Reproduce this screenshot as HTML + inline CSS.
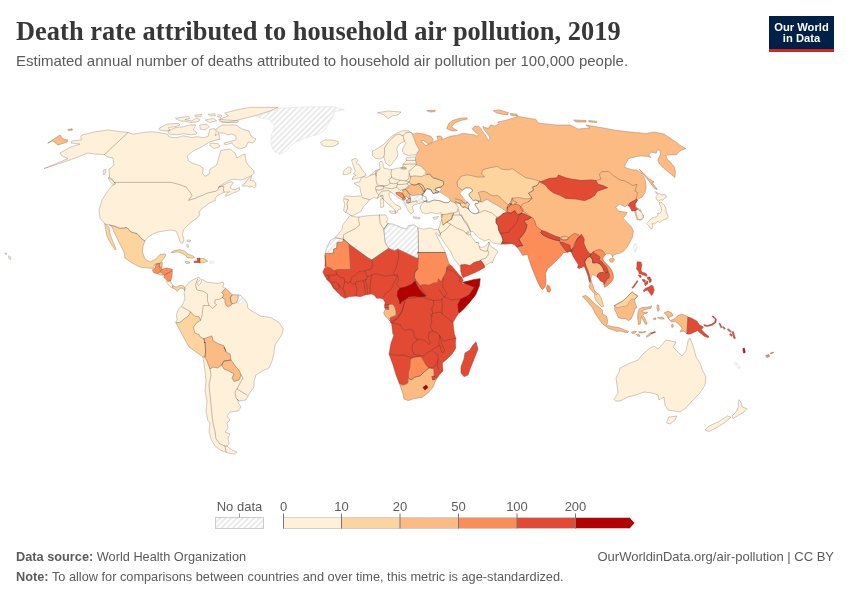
<!DOCTYPE html>
<html lang="en">
<head>
<meta charset="utf-8">
<title>Death rate attributed to household air pollution, 2019</title>
<style>
html,body{margin:0;padding:0;background:#fff;}
body{width:850px;height:600px;overflow:hidden;position:relative;font-family:"Liberation Sans",sans-serif;}
.title{position:absolute;left:16px;top:16px;margin:0;font-family:"Liberation Serif",serif;font-weight:700;font-size:26.4px;line-height:30px;color:#373737;white-space:nowrap;letter-spacing:0.05px;}
.subtitle{position:absolute;left:16px;top:52px;margin:0;font-size:15px;line-height:18px;color:#5b5b5b;white-space:nowrap;}
.logo{position:absolute;left:769px;top:16px;width:65px;height:36px;background:linear-gradient(#002147 0,#002147 33.3px,#ce261e 33.3px,#ce261e 36px);color:#fff;font-weight:700;font-size:11.2px;line-height:11.8px;text-align:center;}
.logo span{display:block;white-space:nowrap;}
.logo .l1{padding-top:5.6px;}
.foot{position:absolute;font-size:12.75px;line-height:16px;color:#5b5b5b;white-space:nowrap;}
.foot b{font-weight:700;}
#src{left:16px;top:549px;}
#note{left:16px;top:568.5px;}
#url{right:16px;top:549px;font-size:13px;}
svg{position:absolute;left:0;top:0;}
</style>
</head>
<body>
<h1 class="title">Death rate attributed to household air pollution, 2019</h1>
<p class="subtitle">Estimated annual number of deaths attributed to household air pollution per 100,000 people.</p>
<div class="logo"><span class="l1">Our World</span><span class="l2">in Data</span></div>
<svg width="850" height="600" viewBox="0 0 850 600">
<defs>
<pattern id="hatch" patternUnits="userSpaceOnUse" width="4" height="4" patternTransform="rotate(45)">
<rect width="4" height="4" fill="#fff"/>
<line x1="2" y1="0" x2="2" y2="4" stroke="#eaeaea" stroke-width="2"/>
</pattern>
</defs>
<g id="map-fill" stroke-linejoin="round" stroke-width="0.4" fill-rule="evenodd">
<path d="M81 136L82 135L94 132L108 130L128 132.6L128.3 132.5L133.3 134.2L143.3 132.5L151.7 131.7L158.3 132.5L167.5 134.2L169.2 137L176.7 137.7L183.3 135.8L191.7 137.5L197.5 136.7L203.3 137.7L208.3 136.3L209 132.5L209.7 129.7L214.2 128.3L216.3 131.7L215 135.8L218.7 133.3L220 139.2L210 141.7L200.8 147.5L193.3 150.8L187.5 155.8L188.3 160.8L192.5 163.3L199.2 165.3L203.3 168.3L202.5 173.3L205 176.3L209.2 174.2L210 169.2L216.7 165L218.3 159.2L220.8 150.8L223 150L230 149L235 153L237 158L242 155L245 154L246 162L250 167L253.8 170.8L254.2 173.3L252.1 175.4L248.3 177.1L245 178.8L240.8 180L237.5 179.6L233.3 179.2L230 180L226.7 181.7L223.3 183.8L220 186.2L218.3 187.1L221.7 186.2L225 184.2L229.2 182.1L232.1 181.8L233.3 183.3L231.2 185L230.4 187.9L232.5 189.2L235 189.6L237.9 188.3L239.6 187.5L239.6 190L236.7 191.7L232.5 193.3L229.2 195L225.8 196.2L225 195L227.9 192.9L229.6 191.7L226.7 192.1L224.2 192.1L223.3 192.5L220 194.2L216.7 196.2L215 198.8L215.4 200.8L213.3 201.2L210.8 202.5L207.9 203.8L205.8 206.2L202.5 207.9L200.8 210L199 212L199.6 215L197 218L190 223L184 229L182.4 234L184 240L182.4 243.6L180 242L178 235L176 231L170 230L164 231L158 232L153 234L148 237L145 241L142 239L137 233.6L131 232L127 227.6L120 228.4L114 226L105 224L100 218L99 210L102 200L107 192L112 186L115 182.4L115 183L109.6 178L109 169L111 168L114 165L113 158L108 157L104.4 154.6L94 154L88 153L70 160L44 168.6L68 158.6L62 156L60 153L70 147.4L80 144L71 143L71.6 141L81 140Z" fill="#fef0d9" stroke="#fef0d9"/>
<path d="M108.4 177.6L112 179L115.6 184L113.6 185L110 181.6Z" fill="#fef0d9" stroke="#fef0d9"/>
<path d="M103.6 170L106 169.4L105.2 174L103.6 174.6Z" fill="#fef0d9" stroke="#fef0d9"/>
<path d="M242.1 185.4L245 183.3L248.3 178.8L251.7 175.8L251.2 178.3L250 180.4L253.3 180.8L255.8 182.9L255.8 186.7L254.2 188.3L252.1 186.2L249.6 187.1L247.5 185.8L244.2 186.2Z" fill="#fef0d9" stroke="#fef0d9"/>
<path d="M159.2 128.3L166.7 124.2L178.3 123.3L180 125L175 126.7L168.3 127.5L170 130.8L163.3 130.8L160 130Z" fill="#fef0d9" stroke="#fef0d9"/>
<path d="M168.3 130.8L175.8 127.5L183.3 126.7L190 125L195.8 125L193.3 130L196.7 132.5L196.7 134L191.7 134.8L183.3 133.8L176.7 134.8L169.2 134L168.3 132.5Z" fill="#fef0d9" stroke="#fef0d9"/>
<path d="M175.8 118.3L188.3 116.3L190 118.3L185 119.7L191.7 120.8L196.7 118L200 119.7L198.3 121.7L190 122.5L185 121.3L180 120.8Z" fill="#fef0d9" stroke="#fef0d9"/>
<path d="M195 115.3L201.7 114.2L200.8 116.7L195.8 116.7Z" fill="#fef0d9" stroke="#fef0d9"/>
<path d="M208.3 114.2L215 113.7L215.3 115.8L210 115.8Z" fill="#fef0d9" stroke="#fef0d9"/>
<path d="M218.3 114.7L221.7 115.3L220.8 117.5L218 116.7Z" fill="#fef0d9" stroke="#fef0d9"/>
<path d="M205.8 120L213.3 118.3L216.7 120.8L210 122.5Z" fill="#fef0d9" stroke="#fef0d9"/>
<path d="M219.2 119.2L226.7 120L238.3 120.8L237.5 122.5L226.7 122.5L220 121.7Z" fill="#fef0d9" stroke="#fef0d9"/>
<path d="M200 125L206.7 124.2L209.2 126.7L205 130L200.8 129.2Z" fill="#fef0d9" stroke="#fef0d9"/>
<path d="M225 113L236 110L250 107.4L278 107.4L270 111L254 116L246 118L238 120L230 122L222 122L220 119L228 116Z" fill="#fef0d9" stroke="#fef0d9"/>
<path d="M216 129L222 125L236 125L242 129L249 131L251 136L256 139L253 143L248 142L246 147L240 149L234 146L232 143L225 145L224 143L236 140L236 136L232 134L228 135L224 133L219 133Z" fill="#fef0d9" stroke="#fef0d9"/>
<path d="M210.8 143L218.3 143.7L220 146.7L214.2 148.7L210 145.8Z" fill="#fef0d9" stroke="#fef0d9"/>
<path d="M256 116.5L278.5 108.5L303.5 106.9L333 106.7L344.5 109.8L334 111.8L333.5 116L329 122.5L324.7 130L318.4 134.2L303.5 138.4L293 143.7L285.5 151L280.2 154.5L274 151.5L270.7 143L271.8 134.2L275 126.8L269.7 119.6L261.2 118Z" fill="url(#hatch)" stroke="#fff"/>
<path d="M321 142L325 140L332 140L338 141.4L338.4 144L333 146.6L326 146.6L322 145Z" fill="#fef0d9" stroke="#fef0d9"/>
<path d="M48 143L60 135L63 139L68 140L67 142L58 145L53 141Z" fill="#fdbb84" stroke="#fdbb84"/>
<path d="M68 129.5L72 128.8L72.5 130L69 130.6Z" fill="#fdbb84" stroke="#fdbb84"/>
<path d="M9 256L11 257.5L10.5 259.5L9 258.5Z" fill="#fef0d9" stroke="#fef0d9"/>
<path d="M5 253L7 253.5L6.5 254.5Z" fill="#fef0d9" stroke="#fef0d9"/>
<path d="M105 224L109 227L110 234L113 242L116 249L115 250L110 242L107 236L105.6 229Z" fill="#fdd49e" stroke="#fdd49e"/>
<path d="M109.6 225L114 226L120 228.4L127 227.6L131 232L137 233.6L142 239L145 241L143 246L142.4 252L145 259L150 262L156 259L160 254.4L165 254L166 255L162 261L160 263L155 264L153 268.4L148 268L140 267L132 263L125 258L124 252L120 244L115 234L112 227Z" fill="#fdd49e" stroke="#fdd49e"/>
<path d="M152.4 270L155.3 267.6L155.9 264.1L159.4 263.5L160 267.6L162.4 269.2L160 271.8L157.6 273.5L154.1 272.9Z" fill="#fc8d59" stroke="#fc8d59"/>
<path d="M159.4 263.5L162.4 262.4L161.8 267.6L160 267.6Z" fill="#fdbb84" stroke="#fdbb84"/>
<path d="M162.4 269.2L166.5 268L172.4 269.2L171.8 270.8L167.1 273.5L164.1 275.3L162.9 273.5L160 271.8Z" fill="#fc8d59" stroke="#fc8d59"/>
<path d="M157.6 273.5L160 272.4L162.9 274.1L162.4 275.3L158.8 274.7Z" fill="#fdd49e" stroke="#fdd49e"/>
<path d="M164.1 275.3L167.1 273.5L172.4 270.8L171.8 276.5L170.6 281.2L167.1 280.6L164.1 277.6Z" fill="#fc8d59" stroke="#fc8d59"/>
<path d="M166.5 281.2L170.6 281.8L172.9 285.3L172.4 288.2L170 286.5L167.6 284.1Z" fill="#fef0d9" stroke="#fef0d9"/>
<path d="M172.9 285.9L176.5 287.1L180 285.3L183.5 285.9L185.3 288.2L184.7 290.6L182.9 288.2L180 288.2L177.6 291.2L175.3 289.4L173.2 288.2Z" fill="#fdd49e" stroke="#fdd49e"/>
<path d="M171.2 252.4L174.1 250.6L180 249.6L184.7 251.2L188.2 254.1L192.9 255.9L194.7 257.4L191.8 258.2L187.1 257.6L186.5 255.9L182.4 253.5L177.6 251.8L173.5 252.4Z" fill="#fdd49e" stroke="#fdd49e"/>
<path d="M185.3 261.8L188.2 261.4L190 262.9L187.1 263.5Z" fill="#fdd49e" stroke="#fdd49e"/>
<path d="M194.1 261.2L197.6 260.9L197.1 258.2L200 258.2L200.2 262.9L198.2 262.4L194.4 262.6Z" fill="#e34a33" stroke="#e34a33"/>
<path d="M200 258.2L204.1 258.6L207.6 261.2L204.1 262.6L200.2 262.9Z" fill="#fdd49e" stroke="#fdd49e"/>
<path d="M210 261.4L214.1 261.2L214.4 263.1L210.2 263.3Z" fill="url(#hatch)" stroke="#fff"/>
<path d="M187.1 240L190.6 240.2L190 241.8L187.6 241.4Z" fill="#fef0d9" stroke="#fef0d9"/>
<path d="M187.1 244.7L188.5 244.9L188.2 247.6L187.3 247.1Z" fill="#fef0d9" stroke="#fef0d9"/>
<path d="M222.7 287L223.8 284.2L223.1 282.1L218.2 283.5L212.5 282.8L206.8 282.1L201.9 279.2L200.5 283.5L198.3 285.6L197.6 282.8L200.5 279.2L199 277.1L194.1 279.2L189.1 282.1L184.9 287.7L184.2 293.4L184.9 299.1L182 305.5L178.5 309L176.4 314.7L177.1 319.6L176 321.8L177.5 321.8L177.2 322.5L177.4 323L179.9 323L179.9 323L180 323L180 323L180.1 323L180.1 322.9L180.2 322.9L180.2 322.9L184.5 319.3L188.7 316.5L188.7 316.5L188.8 316.4L188.8 316.4L188.8 316.4L188.8 316.3L190.6 312.6L194.4 316.5L194.5 316.5L194.5 316.5L194.6 316.5L194.6 316.6L194.7 316.6L194.7 316.6L198.6 317.2L199.9 320.1L195.9 322.8L195.9 322.8L195.8 322.8L195.8 322.9L195.8 322.9L193 327.1L193 327.2L192.9 327.2L192.9 327.3L192.9 327.3L192.9 327.4L192.9 327.4L192.9 327.5L192.9 327.5L194.3 333.2L194.3 333.3L194.3 333.3L194.4 333.4L194.4 333.4L194.4 333.4L194.5 333.5L194.5 333.5L194.6 333.5L194.6 333.6L194.6 333.6L198.7 334.9L200.1 337.5L200.1 337.6L200.1 337.6L200.1 337.7L200.2 337.7L200.2 337.7L200.3 337.7L200.3 337.8L203.8 339.2L203.9 339.2L203.9 339.2L204 339.2L204 339.2L204.1 339.2L204.1 339.2L204.2 339.2L208.4 337.8L208.4 337.8L211.5 336.6L212.7 341L212.7 341.1L212.8 341.1L212.8 341.2L212.8 341.2L212.8 341.2L212.9 341.3L212.9 341.3L213 341.3L218 344.1L218 344.2L218 344.2L223.4 346.2L223.6 346.7L223.6 346.7L223.6 346.8L223.5 346.8L223.5 346.9L223.5 346.9L223.5 346.9L223.5 347L223.5 347L223.5 347.1L223.5 347.1L223.5 347.2L225.5 352.2L225.6 352.2L225.6 352.3L225.6 352.3L225.7 352.4L225.7 352.4L225.7 352.4L225.8 352.4L229.5 354.3L230.5 360.1L230.5 360.1L230.5 360.2L230.5 360.2L230.6 360.3L230.6 360.3L235.6 367.3L235.6 367.3L235.6 367.4L238.6 370.3L240.5 375L238.6 379.6L234.2 380.8L232.6 378L234.4 374.2L234.5 374.2L234.5 374.1L234.5 374.1L234.5 374L234.5 374L234.5 373.9L234.5 373.9L234.5 373.8L234.5 373.8L234.4 373.7L234.4 373.7L234.4 373.7L234.3 373.6L234.3 373.6L234.3 373.6L229.3 370.6L229.2 370.6L229.2 370.5L224.3 368.6L222 364.7L222 364.7L222 364.7L221.9 364.6L221.9 364.6L221.9 364.6L221.8 364.6L221.8 364.5L221.7 364.5L221.7 364.5L221.6 364.5L221.6 364.5L221.5 364.5L221.5 364.5L221.4 364.5L221.4 364.5L221.4 364.6L221.3 364.6L221.3 364.6L217.9 367.5L213.1 366.5L213 366.5L213 366.5L213 366.5L212.9 366.5L212.9 366.5L212.8 366.5L212.8 366.6L212.7 366.6L210.2 368.2L207.5 360.8L207.4 360.8L205.4 356.8L205.4 356.7L205.4 356.7L205.4 356.7L205.3 356.6L205.3 356.6L205.2 356.6L205.2 356.5L205.1 356.5L205.1 356.5L205.1 356.5L205 356.5L204.2 356.5L204.2 356.6L204.3 356.7L204.3 356.8L204.4 357.7L203.1 357.7L205 371L206 381L205 391L207 401L206 411L208 421L210 423L209 431L211 439L215 446L220 450L228 453L234 454L237 452L232 450L227 446L229 444L228 438L230 434L225 432L228 428L227 423L230 420L227 416L230 412L238 411L241 407L239 404L237 399L239 401L246 400L249 394L254 387L254 381L256 375L262 371L269 368L272 361L274 353L275 345L279 339L281.9 334.5L283.3 328.8L279.1 322.5L270.6 317.5L260.7 316.1L252.2 311.1L247.9 308.3L247.2 303.3L244.4 299.1L244.4 299.1L244.4 299.1L244.4 299.2L244.4 299.3L244.4 299.3L244.3 299.4L244.3 299.5L243.7 300.4L243.4 299.9L242.9 299.5L240.6 303.4L237.9 302.8L236.9 302.2L236.8 302.2L236.8 302.1L236.7 302.1L236.7 302.1L236.6 302.1L236.6 302.1L236.6 302.1L236.5 302.1L236.5 302.1L236.4 302.1L233.1 303.4L231.3 301.5L231.2 301.5L231.2 301.5L231.1 301.5L231.1 301.4L231 301.4L231 301.4L230.9 301.4L230.9 301.4L230.9 301.4L230.8 301.4L230.8 301.4L230.7 301.4L230.7 301.5L230.6 301.5L230.6 301.5L230.5 301.5L230.5 301.6L230.5 301.6L230.5 301.7L230.4 301.7L230.4 301.8L230.4 301.8L230.4 301.9L230.4 301.9L230.4 301.9L230.4 302L230.4 302L230.4 302.1L230.5 302.1L230.5 302.2L231.6 303.9L229.3 305.7L227 305.7L225.5 302.5L225.7 299.8L225.7 299.8L225.7 299.7L225.7 299.7L225.7 299.6L225.7 299.6L225.6 299.5L225.6 299.5L225.6 299.5L225.5 299.4L225.5 299.4L223 297.5L224.3 295L224.3 295L224.3 294.9L224.3 294.9L224.3 294.8L224.3 294.8L224.3 294.7L224.3 294.7L224.3 294.6L224.3 294.6L224.2 294.6L224.2 294.5L224.2 294.5L224.2 294.4L222.4 292.7L224.8 289.6L225 289.5L223.8 289L224 288.8L224 288.7L224.1 288.7L224.1 288.6L224.2 288.6L225.1 288.1Z" fill="#fef0d9" stroke="#fef0d9" stroke-width="0.2"/>
<path d="M175.7 322.5L179.9 322.5L184.2 318.9L188.4 316.1L190.5 311.8L194.8 316.1L199 316.8L200.5 320.3L196.2 323.2L193.4 327.4L194.8 333.1L199 334.5L200.5 337.3L204 338.7L204.7 343L205 342L205.6 351L205 357L203 357L196 352L189 347L184 338L180.6 331.7Z" fill="#fdd49e" stroke="#fdd49e"/>
<path d="M204 338.7L208.2 337.3L211.8 335.9L213.2 340.9L218.2 343.7L223.8 345.8L225.9 351.5L224 347L226 352L230 354L231 360L224 361L221.6 365L218 368L213 367L210 369L207 361L205 357L205.6 351L205 342L204.7 343Z" fill="#fdbb84" stroke="#fdbb84"/>
<path d="M221.6 365L224 361L231 360L236 367L239 370L241 375L239 380L234 381.4L232 378L234 374L229 371L224 369Z" fill="#fdbb84" stroke="#fdbb84"/>
<path d="M225.9 288.5L229.5 292L232.3 294.8L230.2 297.7L230.9 301.9L232.3 304L229.5 306.2L226.7 306.2L225 302.6L225.2 299.8L222.4 297.7L223.8 294.8L221.7 292.7L224.5 289.2Z" fill="#fdbb84" stroke="#fdbb84"/>
<path d="M232.3 294.8L238 294.8L238 299.1L236.6 302.6L233 304L230.9 301.9L230.2 297.7Z" fill="#fdd49e" stroke="#fdd49e"/>
<path d="M238 294.8L240.8 295.5L243.7 299.1L240.8 304L237.7 303.3L236.6 302.6L238 299.1Z" fill="url(#hatch)" stroke="#fff"/>
<path d="M463.2 280.2L461.7 277.3L458.9 274.5L455.4 270.2L451.8 266L449.6 264.3L448.9 265.4L448.2 264.9L448.1 264.9L448 264.8L448 264.7L446.5 267.1L446.4 267.2L446.4 267.2L446.4 267.3L446.4 267.3L445.7 271.5L442.9 277.1L442.9 277.1L441.1 280.7L438.8 278.4L438.7 278.3L438.7 278.3L438.6 278.3L438.6 278.2L438.6 278.2L438.5 278.2L438.5 278.2L438.4 278.2L438.4 278.2L438.3 278.2L438.3 278.2L438.2 278.2L438.2 278.3L438.1 278.3L438.1 278.3L438 278.3L438 278.4L438 278.4L438 278.5L437.9 278.5L437.9 278.6L437.9 278.6L437.3 281.9L433.3 282.5L433.3 282.5L433.2 282.5L433.2 282.6L429.1 284.6L423.6 283.9L423.5 283.9L423.5 283.9L423.4 283.9L423.4 283.9L423.3 283.9L420.2 285.2L418.2 282L418.2 282L418.2 282L418.1 281.9L418.1 281.9L418.1 281.9L418 281.9L416.8 281.2L414.7 277.2L415.4 272.6L418.2 269.1L418.2 269.1L418.2 269L418.3 269L418.3 268.9L418.3 268.9L418.3 268.8L419 257.5L419 257.5L419 257.4L419 257.4L419 257.3L419 257.3L418.9 257.3L418.9 257.2L418.9 257.2L418.8 257.1L418.8 257.1L418.8 257.1L418.7 257.1L418.7 257L418.6 257L418.6 257L418.5 257L418.5 257L415.8 257L398.1 248.5L398.1 248.5L398 248.5L398 248.5L397.9 248.5L397.9 248.5L397.8 248.5L397.8 248.5L397.7 248.5L394.4 249.9L388.9 247.8L388.8 247.8L388.8 247.8L388.7 247.8L388.7 247.8L388.6 247.8L388.6 247.8L388.5 247.8L388.5 247.8L388.5 247.9L388.4 247.9L371.7 259.4L367.8 257.1L350.1 244.3L350.1 244.3L350 244.2L350 244.2L349.9 244.2L349.9 244.2L349.8 244.2L349.8 244.2L349.7 244.2L349.7 244.2L349.6 244.2L349.6 244.3L349.5 244.3L349.5 244.3L349.5 244.3L349.4 244.4L348.7 245.2L348.7 245.2L348.7 245.2L348.6 245.3L348.6 245.3L348.6 245.4L348.6 245.4L348.6 245.5L348.6 245.5L350 269L337 269L337 269L336.9 269L336.9 269L336.8 269L336.8 269.1L334.3 270.3L331 267.7L331 267.7L330.9 267.7L330.9 267.6L330.9 267.6L327.2 266.4L327.2 266.5L327.1 266.6L327.1 266.7L327 266.8L326.9 266.9L326.8 267L326.7 267.1L326.6 267.1L326.5 267.5L326.2 267.4L325.1 267.2L322.8 272L324.9 276.2L327 279.8L330.6 283.3L333.4 288.3L337.7 292.5L341.2 296.1L344.7 298.2L349 296.8L356.1 296.1L360.3 296.8L366 294.7L371.7 294L374.5 295.4L376.6 298.2L380.2 298.2L383 298.9L385.1 302.5L384.4 306L385 308.8L385 308.8L385.1 308.8L386.3 308.8L386.4 309.2L386.4 309.4L386.4 309.5L386.4 309.6L386.4 309.7L386.4 309.9L386.3 310L386.3 310L388.7 310L388.7 310L388.8 310L388.8 310L388.9 310L388.9 309.9L389 309.9L389 309.9L389.1 309.9L389.1 309.8L389.1 309.8L389.1 309.7L389.2 309.7L389.2 309.6L389.2 309.6L389.2 309.5L389.2 309.5L389.2 305.1L392 304.8L393.9 306.3L395.2 310.3L395.5 314.9L392.7 316.1L390.6 316.8L390.6 316.8L390.6 316.9L390.5 316.9L390.5 316.9L390.4 316.9L389.3 318.1L389.6 318.5L389.7 318.6L390.1 319L389.2 319.9L389.1 319.9L389.1 320L391.5 323L392.2 328.7L392.9 334.3L394 335L391 343L389 354L393 365L396 375L399.7 384.4L399.8 384.3L399.9 384.3L399.9 384.3L400 384.3L401.1 384.3L401.2 384.5L401.2 384.6L401.5 385.5L404 385.5L404 385.5L404.1 385.5L404.1 385.5L404.2 385.5L404.2 385.4L408.2 383.4L408.3 383.4L408.3 383.4L408.3 383.4L408.4 383.3L408.4 383.3L408.4 383.2L408.5 383.2L408.5 383.1L408.5 383.1L408.5 383L408.9 378L408.9 378L408.9 373.1L410.5 367.1L410.5 367.1L410.5 367L410.9 359.3L415.1 357.5L420.7 357.1L425.6 365.3L425.6 365.3L425.6 365.3L425.6 365.4L428.6 368.4L428.7 368.4L428.7 368.4L428.8 368.4L428.8 368.5L428.8 368.5L428.9 368.5L433.1 369.4L433.5 376L433.5 376.1L433.5 376.1L433.5 376.2L433.6 376.2L435 379.1L435.8 378L436.4 379.3L440 374L443 371L442.4 364L442.4 362.9L446.7 359.4L452.3 353.7L455.9 348.1L455.4 343.8L455.9 338.2L454.4 333.9L453.7 328.2L453 322.6L455.9 317.6L458.3 314L458.3 314L458.3 313.9L458.2 313.9L458.2 313.8L458.1 313.8L458.1 313.7L458 313.7L458 313.6L458 313.5L458 313.5L457.9 312.4L459 311.4L458.5 304.3L461.2 299.6L469.5 295.4L469.6 295.4L469.6 295.4L469.6 295.4L469.7 295.3L469.7 295.3L474.9 287.5L474.9 287.4L475 287.4L475 287.3L475 287.3L475 287.2L475 287.2L475 287.2L475 287.1L475 287.1L475 287L474.9 287L474.9 286.9L474.9 286.9L474.9 286.8L474.8 286.8L474.8 286.8L474.7 286.8L474.7 286.7L469.7 284.6L469.7 284.6L465.6 283L463.5 283.4L462.2 282.9L462.2 282.9L462.1 282.9L462.1 282.8L462 282.8L462 282.7L461.9 282.7L461.9 282.6L461.9 282.6L461.8 282.5L461.8 282.4L461.8 282.4L461.8 282.3L461.8 282.2L461.8 282.2L461.8 282.1L461.9 282L461.9 282L461.9 281.9L462 281.9L462 281.8L462.1 281.8L462.1 281.7L462.2 281.7L462.2 281.7L462.3 281.6L462.4 281.6L462.8 281.5ZM401.7 300.7L400.3 302.7L399.8 300.2L399.8 300.2L399.8 300.1L397.7 295.3L398.4 291.3L400.3 288.7L405.8 287.4L405.9 287.4L411.5 285.2L411.5 285.1L411.6 285.1L411.6 285.1L411.6 285.1L414.8 282L417.3 287.1L417.3 287.2L417.3 287.2L421.5 292.8L421.5 292.9L424.4 295.7L419.8 296.3L414.3 295.6L414.2 295.6L414.2 295.6L414.1 295.6L408.4 296.3L408.4 296.3L408.3 296.3L408.3 296.3L408.2 296.4L408.2 296.4L405.4 298.5L401.8 300.6L401.8 300.6L401.8 300.6L401.7 300.7ZM417.7 232L417.9 252.5L417.9 252.6L418 252.6L418 252.6L418 252.7L418 252.7L418 252.8L418.1 252.8L418.1 252.9L418.1 252.9L418.2 252.9L418.2 252.9L418.3 253L418.3 253L418.3 253L418.4 253L418.4 253L418.5 253L418.5 253L418.6 253L418.6 253L418.7 253L418.7 252.9L418.8 252.9L418.8 252.9L418.9 252.9L418.9 252.8L418.9 252.8L418.9 252.7L419 252.7L419 252.6L419 252.6L419 252.5L419 252.5L418.7 232L418.7 231.9L418.7 231.9L418.7 231.8L418.7 231.8L418.6 231.8L418.6 231.7L418.6 231.7L418.5 231.6L418.5 231.6L418.5 231.6L418.4 231.6L418.4 231.5L418.3 231.5L418.3 231.5L418.2 231.5L418.2 231.5L418.1 231.5L418.1 231.5L418 231.5L418 231.5L418 231.6L417.9 231.6L417.9 231.6L417.8 231.7L417.8 231.7L417.8 231.7L417.8 231.8L417.7 231.8L417.7 231.9L417.7 231.9L417.7 232Z" fill="#e34a33" stroke="#e34a33" stroke-width="0.2"/>
<path d="M334.9 237.7L343.4 239.1L343.1 241.9L337 242.6L336.6 248.3L333.5 249L333.5 253.2L325 253.5L325 254L327 247L330 241Z" fill="url(#hatch)" stroke="#fff"/>
<path d="M334.9 237.7L337.7 234.8L342 229.2L342.7 224.9L346.2 220.7L350.2 215.3L354 216.7L359 217.1L367.5 215.7L379.5 215L385.9 215L388 219.2L386.2 222.1L388 223.5L385.9 226.3L383.8 229.2L384.5 236.2L385.2 242.6L388.7 248.3L371.7 260L367.5 257.5L349.8 244.7L344.1 239.8L343.4 239.1Z" fill="#fef0d9" stroke="#fef0d9"/>
<path d="M388 223.5L393 224.2L400.1 227L406.4 229.2L408.6 225.6L414.2 224.9L417.8 227.7L418.2 232L418.5 257.5L415.7 257.5L397.9 249L394.4 250.4L388.7 248.3L385.2 242.6L384.5 236.2L383.8 229.2L385.9 226.3Z" fill="url(#hatch)" stroke="#fff"/>
<path d="M417.8 227.7L423.5 229.2L430.6 228L434.8 229.9L438.4 229.2L440.5 234.1L439.1 236.2L436.2 232.7L435.5 233.4L439.8 241.9L444.7 251.1L445.5 252.5L417.8 252.5L418.5 252.5L418.2 232Z" fill="#fef0d9" stroke="#fef0d9"/>
<path d="M325 253.5L333.5 253.2L333.5 249L336.6 248.3L337 242.6L343.1 241.9L343.4 239.1L344.1 239.8L349.8 244.7L349.1 245.5L350.5 269.5L337 269.5L334.2 270.9L330.7 268.1L326.4 266.7L325 266.5L325 254Z" fill="#fc8d59" stroke="#fc8d59"/>
<path d="M417.8 252.5L445.5 252.5L446.9 257.5L449 263.9L446.9 267.4L446.2 271.7L443.3 277.3L441.2 281.6L438.4 278.7L437.7 282.3L433.4 283L429.2 285.1L423.5 284.4L420 285.8L417.8 282.3L416.4 281.6L414.2 277.3L414.9 272.4L417.8 268.8L418.5 257.5Z" fill="#fc8d59" stroke="#fc8d59"/>
<path d="M397.9 291.1L400 288.3L405.7 286.9L411.3 284.7L414.9 281.2L417.7 286.9L421.9 292.5L425.5 296.1L419.8 296.8L414.2 296.1L408.5 296.8L405.7 298.9L402.1 301L400 303.9L399.3 300.3L397.2 295.4Z" fill="#b30000" stroke="#b30000"/>
<path d="M462.5 282.3L466 281.6L474.5 279.4L480.2 278.7L479.4 285.8L475.9 294.3L475 295.7L469.3 302.7L463.7 309.1L458.7 313.4L458 304.2L460.8 299.2L469.3 295L474.5 287.2L469.5 285.1Z" fill="#b30000" stroke="#b30000"/>
<path d="M388.7 304.6L392.2 304.3L394.3 306L395.7 310.2L396 315.2L392.9 316.6L390.8 317.3L388.7 319.4L385.1 315.9L383.7 313.1L385.1 309.5L388.7 309.5Z" fill="#fdbb84" stroke="#fdbb84"/>
<path d="M410.4 359L415 357L421 356.6L426 365L429 368L424 372L420 376L415 377L411 380L408.4 378L408.4 373L410 367Z" fill="#fc8d59" stroke="#fc8d59"/>
<path d="M400 385L404 385L408 383L408.4 378L411 380L415 377L420 376L424 372L429 368L433.6 369L434 376L436 380L433 387L428 393L422 397.4L414 398.6L408 400.6L404 399L403 394Z" fill="#fdbb84" stroke="#fdbb84"/>
<path d="M423 387.4L426 385L428 387.4L425 390Z" fill="#b30000" stroke="#b30000"/>
<path d="M432 376.6L434.4 376L435 379.4L432.6 380Z" fill="#e34a33" stroke="#e34a33"/>
<path d="M476 342L478 349L474 359L470 369L468 375L464 376.6L461 373L461 367L464 359L465 353L470 350L473 345Z" fill="#e34a33" stroke="#e34a33"/>
<path d="M639.2 198.5L642.4 196.9L645.1 192.6L646.1 187.3L645.6 182L644 177.2L641.3 172.9L637.1 170.3L632.8 169.7L628.5 168.7L624.3 167.1L626.4 162.8L628.5 158.5L637.1 156.4L641.3 155.9L647.7 156.4L650.9 157.5L648.8 154.8L650.9 152.1L656.2 153.2L657.3 150L660 150L660.5 154.3L657.8 160.1L659.4 163.9L664.8 169.2L670.1 173.5L674.9 177.5L675.4 171.9L674.4 167.1L670.1 161.7L666.9 158.5L665.8 155.3L671.2 154.8L676.5 154.8L679.7 151.1L681.8 150L686 148.6L679.6 145L676 142L670 138L664 134L654 132L646 133.4L630 132L614 130L598 127L586 125L590 128L578 129L570 125L556 125L538 123L536 119.4L519 116.6L518.3 116.3L511.9 118.4L504.8 120.5L497.7 122L499.2 123.4L494.9 126.2L490.7 124.8L488.5 128.3L485 127.6L482.9 126.2L483.6 129L486.4 132.6L489.2 136.1L489.9 139L488.5 140.4L487.1 138.2L485 134.7L482.2 131.2L480.7 128.3L478.6 126.2L474.4 126.2L472.2 129L475.1 131.9L478.6 134.7L477.2 136.1L473.7 134.7L468 134L463 133.3L456.7 135.4L451 136.1L445.3 138.2L441.1 139.7L442.5 137.5L440.4 136.1L436.8 136.1L438.2 140.4L434.7 141.1L430.5 143.9L425.5 145.3L421.2 141.1L423.4 140.4L426.2 142.5L428.3 143.9L431.9 142.5L433.3 139.7L431.2 136.5L424.1 134L416.3 132.9L413.3 134.3L413.7 135.6L413.1 135.9L412.9 135.9L412.8 136L412.7 136L412.6 136L413.8 139.4L413.8 139.4L415.9 145L415.9 145L416 145.1L418.7 149.8L416 153.7L416 153.7L416.1 153.8L416.2 153.8L416.4 153.9L416.5 153.9L416.6 154L416.6 154.1L416.7 154.2L416.9 154.5L416.3 155.4L416.2 155.5L416.2 155.5L416.1 155.6L416.1 155.6L416.4 155.9L416.1 156.3L416.1 156.3L416.2 156.4L416.2 156.4L416.3 156.5L416.3 156.5L416.3 156.6L416.4 156.7L416.4 156.7L416.4 156.8L416.4 156.9L416.4 156.9L416.3 158L416.3 158.1L416.2 158.1L416 158.2L415.9 158.2L415.8 158.2L415.1 158.2L415 160L415 160L415 160.1L415 160.1L415.7 162.9L415.7 164.9L415.7 164.9L415.7 165L415.7 165L415.7 165.1L415.8 165.1L415.8 165.2L415.8 165.2L415.8 165.2L415.9 165.3L415.9 165.3L416 165.3L416 165.4L416 165.4L416.1 165.4L416.1 165.4L418.8 165.8L421.5 167.1L423.2 169.5L423.2 169.5L423.3 169.6L423.3 169.6L425.6 171.4L424.6 172.3L424.6 172.4L424.6 172.4L424.6 172.5L424.5 172.5L424.5 172.6L424.5 172.6L424.5 172.7L424.5 172.7L424.5 172.7L424.5 172.8L424.5 172.8L424.5 172.9L424.6 172.9L424.6 173L424.6 173L424.6 173.1L426.4 174.9L426.5 174.9L426.5 174.9L426.6 174.9L426.6 175L426.7 175L426.7 175L426.8 175L426.8 175L426.9 175L429.4 174.6L430.6 176.2L430.6 176.2L430.7 176.3L433.2 178.4L433.2 178.4L433.3 178.4L433.3 178.5L433.3 178.5L433.4 178.5L436.5 179.2L440 180.6L440 180.6L442.8 181.6L443.2 184.2L441.6 186.1L440 186.7L437.2 187.4L437.1 187.4L437.1 187.4L435 188.4L434.9 188.5L434.9 188.5L434.9 188.5L434.8 188.6L434.8 188.6L434.8 188.6L434.7 188.7L434.7 188.7L434.7 188.8L434.7 188.8L434.7 188.9L434.7 188.9L434.7 189L434.7 189L435.1 190.4L435.1 190.5L435.2 190.5L435.2 190.6L435.2 190.6L435.2 190.6L435.3 190.7L435.3 190.7L435.4 190.7L435.4 190.8L435.4 190.8L437.9 191.6L437.1 192.3L435 192L434.9 192L434.9 192L434.8 192L434.8 192L434.7 192L434.7 192.1L434.6 192.1L434.6 192.1L434.5 192.1L433.6 193.1L432.2 191.2L431.8 189.9L431.8 189.8L431.7 189.8L431.7 189.7L431.7 189.7L431.7 189.7L431.6 189.6L431.6 189.6L431.6 189.6L431.5 189.5L429.1 188.4L429.1 188.4L429 188.4L429 188.4L427.2 188.1L427.1 188.1L427.1 188.1L427 188.1L427 188.1L426.9 188.1L426.9 188.1L426.9 188.2L426.8 188.2L426.8 188.2L426.7 188.2L425.7 189.2L425.7 189.3L425.7 189.3L425.7 189.4L425.6 189.4L424.9 191.1L424 191.7L424 191.7L423.9 191.8L423.9 191.8L423.9 191.8L423.3 192.8L422 193.5L421.9 193.5L421.9 193.5L421.9 193.5L421.8 193.6L421.8 193.6L421.8 193.7L421.7 193.7L421.7 193.8L421.7 193.8L421.7 193.8L421.7 193.9L421.7 195.3L421.7 195.3L421.7 195.4L421.7 195.4L421.7 195.5L421.8 195.5L421.8 195.6L421.8 195.6L421.8 195.6L421.9 195.7L421.9 195.7L421.9 195.7L422 195.8L425.3 197.3L426.5 200.4L425.8 201.5L425.8 201.6L425.7 201.6L425.7 201.6L425.7 201.7L425.7 201.7L425.7 201.8L425.7 201.8L425.7 201.9L425.7 201.9L425.7 202L425.8 202L425.8 202.1L425.8 202.1L425.8 202.2L425.9 202.2L425.9 202.2L426 202.2L426 202.3L426.1 202.3L426.1 202.3L426.2 202.3L429.2 202.6L429.2 202.6L429.2 202.6L429.3 202.6L429.3 202.6L429.4 202.6L429.4 202.5L431.9 201.3L434.2 200.5L437 200.9L439.9 201.3L442.7 202.6L442.7 202.6L442.8 202.6L445.7 203.2L445.8 203.2L445.8 203.2L445.9 203.2L448.9 202.8L448.9 202.8L449 202.8L449 202.8L449.1 202.7L449.1 202.7L449.1 202.7L450.5 201.4L454.8 203.4L454.8 203.4L454.9 203.4L454.9 203.4L455 203.4L460 203.8L460 203.8L460.1 203.8L460.1 203.8L463.2 203L465.1 204.2L465.2 204.2L465.2 204.3L465.3 204.3L465.3 204.3L465.4 204.3L465.4 204.3L465.5 204.3L465.5 204.3L465.5 204.3L465.6 204.3L465.6 204.2L465.7 204.2L465.7 204.2L467.5 202.8L469 204.3L467.9 206.5L467.8 206.5L467.8 206.6L467.8 206.6L467.8 206.7L467.8 206.7L467.8 206.8L467.8 206.8L468.3 209.3L468.3 209.3L468.3 209.4L468.4 209.4L468.4 209.5L470 212L470 212L470 212.1L470.1 212.1L470.1 212.1L472.6 213.7L472.7 213.7L472.7 213.8L472.8 213.8L472.8 213.8L475.7 214.3L475.8 214.3L475.8 214.3L475.9 214.3L475.9 214.3L476 214.3L478.5 213.4L478.5 213.4L478.6 213.3L478.6 213.3L478.6 213.3L478.7 213.2L478.7 213.2L478.7 213.1L478.8 213.1L478.8 213L478.8 213L479.3 210.5L479.3 210.4L479.3 210.4L479.3 210.3L479.3 210.3L479.3 210.3L479.3 210.2L479.2 210.2L479.2 210.1L477.5 207.6L477.5 207.6L475.5 204.9L475.8 203.9L477 204.3L477 204.3L477.1 204.3L477.1 204.3L477.1 204.3L477.2 204.3L477.2 204.3L477.3 204.3L477.3 204.2L477.4 204.2L477.4 204.2L479.1 202.9L479.1 202.9L479.2 202.8L479.2 202.8L479.2 202.7L479.3 202.7L479.3 202.7L479.3 202.6L479.3 202.6L479.3 202.5L479.3 202.5L479.3 202.4L479.3 202.4L479.3 202.3L479.2 202.3L478.3 200.6L478.3 200.5L478.3 200.5L478.3 200.4L478.2 200.4L478.2 200.4L478.1 200.4L478.1 200.3L478.1 200.3L475.6 199.5L475.5 199.5L475.5 199.5L475.4 199.5L475.4 199.5L475.3 199.5L475.3 199.5L475.2 199.5L473.5 200.2L472.1 198.5L472.1 198.5L470 195.9L469.4 194.3L470.7 192.9L472.8 191.6L472.8 191.6L472.8 191.6L472.9 191.5L472.9 191.5L472.9 191.4L473 191.4L473 191.4L473 191.3L473 191.3L473 191.2L473 191.2L473 191.1L472.6 189.1L472.6 189.1L472.6 189L472.5 189L472.5 188.9L472.5 188.9L472.5 188.8L472.4 188.8L472.4 188.8L472.3 188.8L469.8 187.5L469.8 187.4L469.7 187.4L469.7 187.4L469.6 187.4L469.6 187.4L465.8 187.4L465.8 187.4L465.7 187.4L465.7 187.4L465.6 187.4L465.6 187.5L465.5 187.5L462.5 189.4L458.2 186.6L457.5 182L461.5 176.6L467.6 175.3L477.4 177.5L477.4 177.5L477.5 177.5L484.6 177.5L484.6 177.5L484.7 177.5L484.7 177.5L484.8 177.5L484.8 177.4L484.9 177.4L484.9 177.4L485 177.4L485 177.3L485 177.3L485 177.2L485.1 177.2L485.1 177.1L485.1 177.1L485.1 177L485.1 177L485.1 177L485.1 176.9L485.1 176.9L485.1 176.8L485 176.8L485 176.7L485 176.7L485 176.6L482.2 173.9L482.9 170.3L490.3 168.2L497.2 166.8L501.3 169.6L501.4 169.6L501.4 169.7L501.5 169.7L501.5 169.7L501.6 169.7L508.7 170.4L508.7 170.4L508.7 170.4L508.8 170.4L508.8 170.4L508.9 170.4L512.1 169.1L519.7 174.5L519.7 174.5L525.4 178.1L525.5 178.1L525.5 178.2L525.6 178.2L525.6 178.2L532.6 179.6L539 181.5L536.7 185.1L532.5 186.4L532.5 186.4L532.5 186.5L532.4 186.5L532.4 186.5L532.3 186.6L532.3 186.6L532.3 186.6L532.3 186.7L532.2 186.7L532.2 186.8L532.2 186.8L532.2 186.9L532.2 186.9L532.2 187L532.2 187L532.8 190.1L528.3 192.8L528.2 192.8L528.2 192.8L528.1 192.9L528.1 192.9L528.1 192.9L528.1 193L528 193L528 193.1L528 193.1L528 193.2L528 193.2L528 193.3L528 193.3L528 193.4L528 193.4L528.1 193.4L528.1 193.5L531.1 197.8L525.7 198.4L518.7 197L518.6 197L518.6 197L518.5 197L512.1 197.7L512.1 197.7L512 197.7L512 197.7L512 197.8L511.9 197.8L511.9 197.8L511.8 197.9L511.8 197.9L511.8 197.9L511.7 198L509.2 203.5L508.3 204.2L506.1 202.5L503.3 200L500.8 197.2L500.7 197.1L500.7 197.1L497.8 195L497.8 195L497.7 194.9L497.7 194.9L497.6 194.9L497.6 194.9L497.5 194.9L497.5 194.9L497.4 194.9L494.2 195.3L491 194.5L487.4 192.1L487.3 192.1L487.3 192L484 190.7L483.9 190.7L483.9 190.7L483.9 190.7L483.8 190.7L483.8 190.7L483.7 190.7L480.7 191.2L480.6 191.2L478.1 192L478.1 192L478.1 192.1L478 192.1L478 192.1L477.9 192.1L477.9 192.2L477.9 192.2L477.9 192.3L477.8 192.3L477.8 192.4L477.8 192.4L477.8 192.4L477.8 192.5L477.8 192.5L477.8 192.6L477.8 192.6L477.8 192.7L479.1 196L479.9 198.4L480.3 201.8L480.3 201.8L480.3 201.9L480.3 201.9L480.4 202L480.4 202L480.4 202L480.5 202.1L480.5 202.1L480.5 202.1L480.6 202.2L480.6 202.2L480.7 202.2L482.4 202.6L482.4 202.6L482.5 202.6L482.5 202.6L482.6 202.6L482.6 202.6L482.7 202.6L482.7 202.5L482.8 202.5L482.8 202.5L484.9 200.8L487.1 199.8L489.7 201.6L489.7 201.6L493 203.7L493.1 203.7L496.5 205.4L499.7 207.5L502.2 209.2L502.2 209.2L504.7 210.8L505.7 211.6L504 212.4L503.9 212.5L503.9 212.5L503.9 212.5L503 213.2L503 213.3L503 213.3L502.9 213.3L502.9 213.4L502.9 213.4L502.9 213.5L502.9 213.5L502.9 213.6L502.9 213.6L502.9 213.7L502.9 213.7L502.9 213.8L502.9 213.8L502.9 213.9L503 213.9L503 213.9L503 214L503.1 214L503.1 214L503.1 214.1L503.2 214.1L503.2 214.1L503.3 214.1L503.3 214.1L503.4 214.1L503.4 214.1L503.5 214.1L507.4 213.1L507.5 213.1L507.5 213L507.6 213L507.6 213L507.6 213L507.7 212.9L507.7 212.9L507.7 212.8L507.8 212.8L507.8 212.8L507.8 212.7L507.8 212.7L507.8 212.6L507.8 208L510.2 206.1L510.3 206.1L510.3 206L510.3 206L510.3 205.9L511.1 204.3L512.2 205.5L512.3 205.5L512.3 205.5L512.4 205.5L512.4 205.6L512.4 205.6L512.5 205.6L512.5 205.6L512.6 205.6L512.6 205.6L512.7 205.6L512.7 205.6L516.3 204.6L519.8 206.1L522.7 210L521.3 212.9L521.2 212.9L521.2 213L521.2 213L521.2 213.1L521.2 213.1L521.2 213.2L521.2 213.2L521.2 213.3L521.2 213.3L521.3 213.3L521.3 213.4L521.3 213.4L521.4 213.5L521.4 213.5L521.4 213.5L521.5 213.5L521.5 213.6L521.6 213.6L525.2 214.7L527.7 216.2L527.8 216.2L531 217.8L531 217.9L531.1 217.9L532.5 218.3L534.5 221.9L535.5 226L535.5 226.1L535.5 226.1L535.6 226.2L535.6 226.2L535.6 226.2L535.7 226.3L539.5 229.5L539.5 229.5L541.6 231.1L541.6 231.1L541.7 231.1L541.7 231.2L541.8 231.2L541.8 231.2L544.4 231.7L550.2 234.4L550.2 234.4L556.1 237.1L556.1 237.1L556.2 237.1L559.4 238L559 240.7L559 240.8L559 240.8L559 240.9L559 240.9L559 241L559 241L559.1 241.1L559.1 241.1L559.1 241.1L559.2 241.2L559.2 241.2L559.2 241.2L559.3 241.3L559.3 241.3L559.4 241.3L559.4 241.3L559.5 241.3L559.5 241.3L559.6 241.3L559.6 241.3L559.7 241.3L559.7 241.2L559.8 241.2L559.8 241.2L559.8 241.2L559.9 241.1L561.1 239.8L563 240.5L563.1 240.5L563.1 240.5L563.2 240.5L563.2 240.5L567.5 240.3L567.6 240.3L567.6 240.3L567.7 240.3L567.7 240.3L567.8 240.2L567.8 240.2L567.8 240.2L567.9 240.1L567.9 240.1L567.9 240.1L567.9 240L569 237.9L572.1 235.4L574.5 233.9L577.9 234.8L579.2 236.5L579.2 236.5L579.2 236.5L579.3 236.6L579.3 236.6L579.4 236.6L579.4 236.6L579.5 236.6L579.5 236.6L579.6 236.6L579.6 236.6L579.7 236.6L579.7 236.6L579.8 236.6L579.8 236.6L579.8 236.6L579.9 236.5L579.9 236.5L580.1 236.4L581.2 235.2L582.5 236.8L583.7 239.7L583.3 243.1L583.3 243.2L583.3 243.2L583.3 243.3L583.3 243.3L583.3 243.4L585.1 247.9L585.2 247.9L587 251.1L587 251.2L587 251.2L589.2 253.9L589.2 254L589.3 254L589.3 254L589.4 254L589.4 254.1L589.5 254.1L590.9 254.5L590.9 254.5L591 254.5L591 254.5L591.1 254.5L591.1 254.5L591.1 254.5L591.2 254.5L591.2 254.4L591.3 254.4L591.3 254.4L591.4 254.4L593.5 252.2L595.2 251.4L599.1 250L601.9 250.8L603.6 253L603.6 253L603.7 253.1L603.7 253.1L604.4 253.6L604.8 253.2L604.9 253.1L605 253L605.1 252.9L605.2 252.9L605.3 252.8L605.3 252.8L606.2 253.4L606.3 253.5L606.3 253.5L606.4 253.6L606.4 253.6L606.4 253.7L606.5 253.8L606.5 253.8L606.5 253.9L606.5 253.9L609.4 253.6L611.7 254.7L612.7 257.2L613.5 254.9L616.6 254L620.2 253.1L623.8 250.9L627.2 247.1L629.9 242.2L632.7 236.6L633.4 230.9L631.3 226.7L627.1 222.4L622.8 218.2L625.7 215.3L627.1 212.5L622.8 211.8L618.6 211.1L615.7 207.5L620 204L622.1 205.4L624.9 206.8L627.3 205.1L627.3 205.1L627.3 205L627.4 205L628.5 203.6L628.6 203.7L628.7 203.7L628.8 203.8L628.8 203.9L629.3 204.5L630.5 203L634.2 201.1L634.3 201.1L635.9 200L636 199.9L636.1 199.8L636.2 199.7L637.5 198.4L637.5 198.4L637.5 198.5L637.6 198.6L637.6 198.6L637.9 199.8ZM565.6 197.8L560.7 195.1L560.7 195L553.6 192.3L548.9 188.7L546 184.6L546 184.6L545.9 184.5L545.9 184.5L545.9 184.5L545.8 184.5L541.2 182.1L549.3 179L557 178.3L557.1 178.3L557.1 178.3L557.2 178.3L557.2 178.2L557.3 178.2L557.3 178.2L557.4 178.1L557.4 178.1L557.4 178.1L557.4 178L558.6 175.6L565.3 178.3L565.4 178.3L565.4 178.3L571.7 179.7L571.7 179.7L581.6 181.1L581.7 181.1L581.7 181.1L590.9 180.4L595.6 181.1L597.6 184.5L597.6 184.5L597.6 184.5L597.7 184.6L597.7 184.6L597.7 184.6L597.8 184.6L597.8 184.7L597.9 184.7L602.8 186.1L606.2 187.6L601.4 189.3L597.1 190.7L597.1 190.7L597.1 190.8L597 190.8L597 190.8L596.9 190.9L596.9 190.9L596.9 190.9L594.1 195.1L590 197.9L584.5 200L576.2 198.5L576.1 198.5ZM640.5 209.7L638 208.4L638.3 208.7L641.1 211.1ZM635.6 214.6L637 219.6L637.9 219.6L636.8 218.2L636.8 218.2L636.8 218.1L636.8 218.1L636.7 218L635.7 214.7L635.7 214.7L635 211.5L634.6 211.5ZM591.4 276.1L592.8 274.7L594.6 275.6L596.6 276.7L596.9 275.3L597.9 275.8L598 275.9L598.2 274.9L599.7 273.4L602.7 273L605.7 273.4L605.8 273.4L605.8 273.4L605.9 273.4L605.9 273.4L606 273.4L606 273.3L606.1 273.3L606.1 273.3L606.1 273.3L606.2 273.2L606.2 273.2L606.2 273.1L606.3 273.1L606.3 273.1L606.3 273L606.3 273L606.3 272.9L606.3 272.9L606.3 272.8L606.3 272.8L606.3 272.7L606.2 272.7L606.2 272.6L606.2 272.6L604.4 270.4L603.2 267.3L603.1 267.3L603.1 267.2L603.1 267.2L600.4 263.6L600.4 263.6L600.3 263.5L600.3 263.5L600.3 263.5L600.2 263.5L600.2 263.4L597 262.1L596.9 262.1L596.9 262.1L596.8 262.1L596.8 262.1L596.8 262.1L593.2 262.5L592.8 259.3L592.8 259.3L592.8 259.2L592.8 259.2L592.7 259.2L592.7 259.1L590.5 256L590.5 256L590.4 255.9L590.4 255.9L590.4 255.9L590.3 255.9L590.3 255.8L590.2 255.8L590.2 255.8L590.1 255.8L590.1 255.8L590 255.8L590 255.8L589.9 255.8L589.9 255.8L587.2 257.1L587.1 257.2L587.1 257.2L587.1 257.2L587 257.3L587 257.3L585.2 259.6L585.2 259.6L585.2 259.7L585.1 259.7L584.2 261.9L584.2 262L584.2 262L584.2 262L584.2 262.1L584.2 262.1L584.2 262.2L584.2 262.2L585.1 265.4L585.1 265.5L585.1 265.5L585.4 266L585.4 266L585.5 266.1L585.6 266.2L585.7 266.3L585.8 266.4L585.9 266.5L585.9 266.6L587.7 271.1L587.7 271.2L589.5 276.1L589.6 276.1L589.6 276.2L589.9 277.8L590.1 275.9L590.1 275.8L590.2 275.7L590.2 275.6L591.1 278.7ZM595.7 292.1L594.1 290L593.2 286.4L591.9 282.8L591.1 279.8L590.8 282.9L590.8 282.9L590.8 283L590.7 283.1L590.7 283.1L590.7 283.2L590.6 283.3L590.6 283.3L590.5 283.3L590.5 283.4L590.4 283.4L590.4 283.5L590.3 283.5L590.2 283.5L590.2 283.5L590.1 283.5L590 283.5L589.9 283.5L589.9 283.5L589.2 286.4L589.5 287.9L591.4 290.2L593.8 293.1L593.9 293.1L593.9 293L594 293L594 293L594.1 292.9L594.2 292.9L594.2 292.9L594.3 292.9L594.4 292.9L594.4 292.9L594.5 292.9L594.6 292.9L596.3 293.6L597 292.8ZM639.9 211.6L639.5 210.6L637.5 209.6ZM635.5 210.2L636.8 214.2L636.9 214.2L636.9 214.3L636 210.6L636 210.5L636 210.5L635.9 210.5L635.9 210.4L635.9 210.4L635.8 210.3L635.8 210.3L635.8 210.3L635.7 210.3L635.7 210.2L635.6 210.2L635.6 210.2L635.5 210.2ZM576.2 242.5L577.4 239.7L577.4 239.6L577.5 239.6L577.5 239.5L577.5 239.5L577.5 239.4L577.5 239.4L577.5 239.3L577.4 239.3L577.4 239.2L577.4 239.2L577.4 239.2L577.3 239.1L577.3 239.1L577.3 239.1L577.2 239L577.2 239L577.1 239L577.1 239L577 239L577 239L576.9 239L576.9 239L576.8 239L576.8 239L576.7 239L576.7 239.1L576.7 239.1L576.6 239.1L576.6 239.2L574.6 241.6L574.6 241.6L574.6 241.7L574.5 241.7L574.5 241.7L573.4 244.9L572.3 248.1L572.3 248.2L572.3 248.2L572.3 248.3L572.3 248.3L572.3 248.4L572.3 248.4L572.3 248.5L572.4 248.5L572.4 248.6L572.4 248.6L572.4 248.7L572.5 248.7L572.5 248.7L572.6 248.7L572.6 248.8L572.7 248.8L572.7 248.8L572.8 248.8L572.8 248.8L572.8 248.8L572.9 248.8L572.9 248.8L573 248.8L573 248.7L573.1 248.7L573.1 248.7L573.2 248.7L574.7 247.2L574.7 247.1L574.7 247.1L574.7 247L574.8 247L574.8 246.9ZM496.2 216.9L495.6 218.8L495.6 218.9L495.6 218.9L495.6 219L495.6 219L495.6 219.1L495.6 219.1L495.6 219.2L495.7 219.2L495.7 219.3L495.7 219.3L495.7 219.3L495.8 219.4L495.8 219.4L495.9 219.4L495.9 219.5L496 219.5L496 219.5L496 219.5L496.1 219.5L496.1 219.5L496.2 219.5L496.2 219.5L496.3 219.5L496.3 219.4L496.4 219.4L499.6 217.3L499.6 217.3L499.8 217.1L499.9 217.1L499.9 217L499.9 217L500 216.9L500 216.9L500 216.8L500 216.8L500 216.7L500 216.7L500 216.6L500 216.6L500 216.6L500 216.5L500 216.5L499.9 216.4L499.9 216.4L499.9 216.3L499.8 216.3L499.8 216.3L499.7 216.3L499.7 216.2L499.6 216.2L499.6 216.2L499.5 216.2L499.5 216.2L499.4 216.2L496.6 216.6L496.6 216.6L496.5 216.6L496.5 216.6L496.4 216.7L496.4 216.7L496.4 216.7L496.3 216.8L496.3 216.8L496.3 216.9L496.2 216.9ZM597.2 294.5L596.8 294.2L595.6 293.5L595.6 293.6L595.6 294.6L596.4 295L596.5 295L596.5 295L596.6 295L596.6 295L596.7 295L596.7 295L596.8 295L596.8 295L596.9 294.9L596.9 294.9L596.9 294.9L597 294.8L597 294.8Z" fill="#fdbb84" stroke="#fdbb84" stroke-width="0.2"/>
<path d="M415.7 155L413.6 154.7L408.7 155.5L404.4 154L402.3 151.2L403 147.7L405.8 143.4L404.4 141.3L401.6 142.7L398.7 144.8L396.6 149.1L398 153.3L397.3 156.9L394.5 160.4L392.4 163.2L390.2 166.1L388.1 164.9L386 163.2L384.6 159.7L383.9 156.9L380.3 159L375.4 158.3L372.5 155.5L372.5 151.2L377.5 148.4L383.2 144.8L387.4 140.6L391.7 136.3L397.3 132.8L403 130.7L408.7 130.7L412.2 133.5L414.3 139.2L416.4 144.8L419.3 149.8Z" fill="#fef0d9" stroke="#fef0d9"/>
<path d="M423.5 201.9L420 203.3L417.2 204L414.3 204.7L412.2 206.8L413.6 211.8L410.8 213.9L408.7 211.1L406.5 207.5L405.1 203.3L403 200.5L398 197.6L394.5 194.8L390.9 192L388.8 193.4L389.5 196.9L391.7 200.5L395.9 204.7L400.2 206.8L400.9 209L398 209.7L397.3 212.5L395.2 213.2L395.2 210.4L393.1 208.2L388.8 204.7L383.9 199.7L380.3 196.2L377.5 198.3L373.2 197.6L369.7 199.7L366.9 203.3L363.3 206.8L361.2 211.1L356.2 213.9L352 216L348.5 213.9L345.6 212.5L343.5 210.4L344.9 204L343.5 200.5L344.2 196.9L345.6 195.8L353.4 196.5L361.9 195.8L360.5 191.6L359.8 186.6L356.2 185.2L354.1 183.1L359.8 181.7L360.5 178.8L363.3 176.7L366.9 177.4L370.4 175.3L373.2 172.5L376.1 170.3L379.6 169.2L380.3 168.2L379.6 166.1L379.2 162.5L381 161.1L382.9 162.5L383.2 166.1L383.9 168.2L387.4 168.9L391.7 169.6L397.3 168.2L401.6 167.5L403 166.1L403 164.4L404.4 162.5L406.5 160.4L405.8 158.3L408.7 157.3L415.7 156.9L415.5 160L416.2 162.8L416.2 164.9L419 165.3L421.8 166.7L423.6 169.2L426.4 171.3L425 172.7L426.8 174.5L429.6 174.1L431 175.9L433.5 178L436.6 178.7L440.2 180.1L443.3 181.2L443.7 184.3L441.9 186.5L440.2 187.2L437.3 187.9L435.2 188.9L435.6 190.3L438.8 191.4L437.3 192.8L434.9 192.5L433.5 193.9L431.7 191.4L431.3 190L428.9 188.9L427.1 188.6L426.1 189.6L425.3 191.4L424.3 192.1L423.6 193.2L422.2 193.9L422.2 195.3L425.7 196.9L427.1 200.5Z" fill="#fef0d9" stroke="#fef0d9"/>
<path d="M442.6 214.6L441.2 212.5L437 213.9L431.3 212.5L425.7 213.9L422.1 212.5L420 208.2L421.4 204.7L423.5 201.9L427.1 200.5L426.2 201.8L429.2 202.1L431.7 200.8L434.2 200L437.1 200.4L440 200.8L442.9 202.1L445.8 202.7L448.8 202.3L450.4 200.8L455 202.9L460 203.3L461.2 205.8L462.9 207.5L465 206.7L466.7 207.9L468.8 209.2L470.4 211.7L472.9 213.3L475.8 213.8L478.3 212.9L478.8 210.4L477.1 207.9L475 205L475.4 203.3L477.1 203.8L478.8 202.5L477.9 200.8L479.2 201.2L480.8 201.7L482.5 202.1L484.6 200.4L487.1 199.2L490 201.2L493.3 203.3L496.7 205L500 207.1L502.5 208.8L505 210.4L506.7 211.7L504.2 212.9L501.7 215L499.6 216.7L496.7 217.1L496.1 219L496.1 222.7L498.2 225.9L498.7 230.2L500.3 233.4L501.9 236.6L503 240.3L501.4 244L501.2 244.4L496.6 243.7L492.3 242.6L490.5 240.8L489.4 239.4L486.9 240.1L484.4 240.8L481.5 239.4L478.7 237.6L476.5 235.8L474.7 233.3L472.9 231.5L470.1 231.8L470.4 234.3L471.5 236.5L473.3 239L475.1 241.5L476.1 242.9L477.2 242.2L478.7 242.9L478.3 244.4L479.4 246.5L481.5 247.2L484.4 246.9L485.8 245.8L487.3 244L488.7 242.2L490.1 242.2L489.4 244.4L490.8 246.5L493.7 248.3L496.6 250.1L498 251.9L495.9 255.1L494.1 258L492.3 263L491.5 261.7L487.2 264.6L483.7 266L485 267L481 269.5L475 272.5L468 275.5L463 277.5L462 275.5L460.8 271L460.5 267L458 264L455 260L452.5 256L451 252L448.5 248.5L445 244L442.5 240L440 236.5L440.5 234.1L438.4 229.2L439.8 225.6L441.2 220.7L441.9 217.8L442.6 215Z" fill="#fef0d9" stroke="#fef0d9"/>
<path d="M457 181.9L461.2 176.2L467.6 174.8L477.5 177L484.6 177L481.7 174.1L482.5 169.9L490.2 167.7L497.3 166.3L501.6 169.2L508.7 169.9L512.2 168.5L520 174.1L525.7 177.7L532.7 179.1L539.8 181.2L537 185.5L532.7 186.9L533.4 190.4L528.5 193.2L532 198.2L525.7 198.9L518.6 197.5L512.2 198.2L509.6 203.8L508.3 204.8L505.8 202.9L502.9 200.4L500.4 197.5L497.5 195.4L494.2 195.8L490.8 195L487.1 192.5L483.8 191.2L480.8 191.7L478.3 192.5L479.6 195.8L480.4 198.3L480.8 201.7L479.2 201.2L477.9 200.8L475.4 200L473.3 200.8L471.7 198.8L469.6 196.2L468.8 194.2L470.4 192.5L472.5 191.2L472.1 189.2L469.6 187.9L465.8 187.9L462.5 190L457.7 186.9Z" fill="#fdd49e" stroke="#fdd49e"/>
<path d="M507.3 207.8L509.9 205.7L511 203.5L512.6 205.1L516.3 204.1L520.1 205.7L523.3 209.9L521.7 213.1L517.9 214.7L516.3 213.1L514.7 210.5L511 213.1L507.3 212.6Z" fill="#fc8d59" stroke="#fc8d59"/>
<path d="M516.9 247.2L519 246.2L522.7 245.6L520.6 242.4L519 239.2L521.7 236L524.3 232.8L525.9 229.1L527 224.9L524.3 221.7L524.9 220.1L528 219.5L531.2 217.4L532.8 217.9L535 221.7L536 225.9L539.8 229.1L541.9 230.7L540.8 232.8L543 235L548.3 237.6L554.7 239.8L559.5 240.8L560.9 239.2L563.2 240L567.5 239.8L568.6 237.6L571.8 235L574.4 233.4L578.2 234.4L580.3 237.1L577.6 238.7L575 241.9L573.9 245.1L572.8 248.3L571.8 251.5L570.1 250.3L568 251L565.9 252.5L563.7 252.5L560.9 256L556.7 260.2L552.4 264.5L547.5 268.7L545.3 273.7L546 280.1L545.3 286.4L542.5 289.6L540.4 287.2L537.5 281.5L534 273L531.2 265.9L529 259.5L527.6 254.6L522.7 255.3L517.7 247.5Z" fill="#fc8d59" stroke="#fc8d59"/>
<path d="M496.1 219L499.3 216.9L503 213.7L507.3 212.6L511 213.1L514.7 210.5L516.3 213.1L517.9 214.7L521.7 213.1L525.4 214.2L528 215.8L531.2 217.4L528 219.5L524.9 220.1L524.3 221.7L527 224.9L525.9 229.1L524.3 232.8L521.7 236L519 239.2L520.6 242.4L522.7 245.6L519 246.2L516.9 247.2L514.2 244.6L511 243.5L506.2 244L501.4 244L503 240.3L501.9 236.6L500.3 233.4L498.7 230.2L498.2 225.9L496.1 222.7Z" fill="#e34a33" stroke="#e34a33"/>
<path d="M541.9 230.7L544.6 231.2L550.4 233.9L556.3 236.6L560 237.6L559.5 240.8L554.7 239.8L548.3 237.6L543 235L540.8 232.8Z" fill="#e34a33" stroke="#e34a33"/>
<path d="M561.1 237.1L565.4 236L568.6 237.6L567.5 239.8L563.2 240L560.9 239.2Z" fill="#fdbb84" stroke="#fdbb84"/>
<path d="M560 241.9L563.2 242.4L566.4 244L569.6 245.1L570.2 247.8L571.8 251.5L569.1 251.5L567.5 252.6L565.4 250.4L563.2 247.2L561.1 244.6Z" fill="#e34a33" stroke="#e34a33"/>
<path d="M547.5 285L549.6 286.4L550.7 290L549.6 292.1L547.5 291.7L546.5 287.9Z" fill="#fc8d59" stroke="#fc8d59"/>
<path d="M581.3 234.5L582.9 236.5L584.2 239.6L583.8 243.2L585.6 247.7L587.4 250.9L589.6 253.6L591 254L590.1 256.3L587.4 257.6L585.6 259.9L584.7 262.1L585.6 265.3L587.4 269.3L589.2 274.7L590.5 279.2L590.1 282.8L589.2 281L588.3 276.5L586.5 271.6L584.7 267.1L583.8 266.6L581.5 267.5L579.3 268.4L577.5 267.5L578.4 264.8L576.6 262.1L574.8 259L573 256.3L572.1 253.6L569.8 250.4L571.6 249.5L574.3 246.8L575.7 242.3L577.5 238.3L579.7 236Z" fill="#e34a33" stroke="#e34a33"/>
<path d="M591 254L593.2 251.8L595 253.6L597.7 255.4L600 257.2L599.1 259.9L601.8 261.7L603.6 263.9L606.3 266.6L607.6 269.8L608.1 272L605.8 272.9L604 270.7L602.7 267.5L600 263.9L596.8 262.6L592.8 263L592.3 259.4L590.1 256.3Z" fill="#e34a33" stroke="#e34a33"/>
<path d="M597.7 274.7L599.5 272.9L602.7 272.5L605.8 272.9L608.1 272L609.4 274.7L609 277.9L606.7 279.2L605.8 281.5L604 284.6L603.6 282.4L600.4 281L598.6 278.3L597.3 277Z" fill="#e34a33" stroke="#e34a33"/>
<path d="M593.2 251.8L595 250.9L599.1 249.5L602.2 250.4L604 252.7L605.8 254L604 256.3L602.7 258.5L603.6 260.8L606.7 263.9L609.4 267.1L611.7 270.2L613 273.8L613.5 277.4L612.1 281L609.4 283.7L606.7 286L604.5 287.3L604 284.6L605.8 281.5L606.7 279.2L609 277.9L609.4 274.7L608.1 272L607.6 269.8L606.3 266.6L603.6 263.9L601.8 261.7L599.1 259.9L600 257.2L597.7 255.4L595 253.6Z" fill="#fc8d59" stroke="#fc8d59"/>
<path d="M594.3 293.6L596.6 294.5L597.6 293.1L599.5 295L601.4 298.8L602.8 303.1L603.6 306.4L601.9 306.9L599 304L596.2 300.7L594.3 296.4Z" fill="#fdd49e" stroke="#fdd49e"/>
<path d="M540 182L549.2 178.5L557 177.8L558.4 175L565.5 177.8L571.8 179.2L581.7 180.6L590.9 179.9L595.9 180.6L598 184.2L603 185.6L607.5 187.7L601.6 189.8L597.3 191.2L594.5 195.5L590.2 198.3L584.6 200.5L576.1 199L565.5 198.3L560.5 195.5L553.4 192.7L548.5 189.1L545.6 184.9Z" fill="#e34a33" stroke="#e34a33"/>
<path d="M627.9 205.4L630.2 202.6L634 200.7L636.9 198.8L637.4 200.7L635.5 203.5L635 206.4L637.8 209.2L635.5 210.7L631.7 211.1L630.7 207.8Z" fill="#e34a33" stroke="#e34a33"/>
<path d="M635.5 210.7L637.8 209.2L641.2 212.1L643.5 215.4L643.5 217.8L641.6 219.7L639.3 220.3L637.4 217.8L636.4 214.5Z" fill="#fef0d9" stroke="#fef0d9"/>
<path d="M460 203.3L463.3 202.5L465.4 203.8L467.5 202.1L469.6 204.2L468.3 206.7L468.8 209.2L466.7 207.9L465 206.7L462.9 207.5L461.2 205.8Z" fill="#fdd49e" stroke="#fdd49e"/>
<path d="M441.2 215.8L442.5 214.6L446.7 214.2L450 213.3L453.8 212.9L452.9 215.8L451.7 219.2L448.3 221.2L445 223.3L442.9 225L442.1 221.7L441.7 218.3Z" fill="#fdd49e" stroke="#fdd49e"/>
<path d="M460.8 265L465 264.5L470 265.5L474 262.5L481 260.5L484 265L485 267L481 269.5L475 272.5L468 275.5L463 277.5L462 275.5L460.8 271Z" fill="#e34a33" stroke="#e34a33"/>
<path d="M408.8 182.6L410.2 179.8L410.5 176.6L414.1 175.9L418.3 176.2L421.8 176.6L423.9 175.2L426.8 174.5L429.6 174.1L431 175.9L433.5 178L436.6 178.7L440.2 180.1L443.3 181.2L443.7 184.3L441.9 186.5L440.2 187.2L437.3 187.9L435.2 188.9L435.6 190.3L438.8 191.4L437.3 192.8L434.9 192.5L433.5 193.9L431.7 191.4L431.3 190L428.9 188.9L427.1 188.6L426.1 189.6L425.3 191.4L424.3 191.8L425 189.6L423.9 187.2L422.2 184.7L419 183.3L416.2 184.7L414.1 185.1L411.2 184Z" fill="#fdd49e" stroke="#fdd49e"/>
<path d="M418.3 183.6L419.3 183.3L422.5 185.1L424.3 187.9L425 189.5L424.3 191.8L422.9 190L422.2 188.2L420.8 186.5L419.3 185.1Z" fill="#fdd49e" stroke="#fdd49e"/>
<path d="M405.9 189.6L408.1 187.2L411.2 184.3L414.1 185.1L416.2 184.7L418.3 184L419.3 185.1L420.8 186.5L422.2 188.2L422.9 190L423.6 191.8L424.3 192.1L423.6 193.2L422.2 193.9L422.2 195.3L420.1 194.6L416.9 194.9L413.3 195.6L410.2 194.6L408.4 192.8L407.4 191.1Z" fill="#fdbb84" stroke="#fdbb84"/>
<path d="M410.2 194.6L413.3 195.6L416.9 194.9L420.1 194.6L422.2 195.3L425.7 196.9L427.1 200.5L423.5 201.9L416.2 200.2L412.6 201.3L410.5 200.6L410.9 198.5L410.2 198.5L409.8 196Z" fill="url(#hatch)" stroke="#fff"/>
<path d="M402.8 190.3L404.5 189.6L405.9 189.6L407.4 191.1L408.4 192.8L410.2 194.6L409.8 196L410.2 198.5L408.8 198.8L407.7 197.1L405.6 196.3L404.2 197.1L403.5 195.3L402.1 193.2L403.1 192.1Z" fill="#fdbb84" stroke="#fdbb84"/>
<path d="M396.1 192.8L399.2 192.1L402.1 193.2L403.5 195.3L404.2 197.1L403.1 198.5L401 197.4L398.5 195.6L396.4 194.2Z" fill="#fc8d59" stroke="#fc8d59"/>
<path d="M403.1 198.5L404.2 197.1L405.6 197.8L405.2 199.5L403.8 200.2L402.4 199.2Z" fill="#fc8d59" stroke="#fc8d59"/>
<path d="M405.6 196.3L407.7 197.1L408.8 198.8L407.7 199.9L406.3 199.5L405.6 197.8Z" fill="url(#hatch)" stroke="#fff"/>
<path d="M406.6 200.6L407.7 199.9L408.8 198.8L410.2 198.5L410.9 198.5L410.5 200.6L410.2 202.3L408.1 203L406.6 202.3Z" fill="#fdbb84" stroke="#fdbb84"/>
<path d="M403.8 200.4L406 200.4L406.5 200.8L406.8 202.9L406.2 205.4L405 206.2L403.8 203.8Z" fill="url(#hatch)" stroke="#fff"/>
<path d="M401 168.1L403.1 167.1L405.6 167.4L406.3 168.8L403.5 169L401.4 168.8Z" fill="#fdbb84" stroke="#fdbb84"/>
<path d="M352 159.7L356.2 158.3L357.7 160.4L356.2 163.2L359.8 165.4L362.6 170.3L365.5 173.2L366.2 175.3L363.3 176.7L357.7 178.1L352 179.5L353.4 176.7L356.2 175.3L353.4 173.9L355.5 171L354.1 167.5L352.7 164Z" fill="#fef0d9" stroke="#fef0d9"/>
<path d="M344.2 170.3L348.5 166.8L351.3 168.2L350.6 172.5L347 174.6L343.5 174.6Z" fill="#fef0d9" stroke="#fef0d9"/>
<path d="M389.5 211.1L395.9 211.1L395.2 213.9L390.9 213.2Z" fill="#fef0d9" stroke="#fef0d9"/>
<path d="M380.6 199L383.2 198.3L383.9 206.8L381 207.5Z" fill="#fef0d9" stroke="#fef0d9"/>
<path d="M381 195.5L382.9 195.2L382.9 198.3L381.3 198Z" fill="#fef0d9" stroke="#fef0d9"/>
<path d="M413.6 216.7L420 217.5L419.7 218.9L414 218.2Z" fill="#fef0d9" stroke="#fef0d9"/>
<path d="M433.4 217.5L438.4 216.5L437 218.9L434.2 219.3Z" fill="#fef0d9" stroke="#fef0d9"/>
<path d="M378 112.6L388 111L401 112L398 115L392 116L388 118.6L384 115Z" fill="#fef0d9" stroke="#fef0d9"/>
<path d="M446.7 128.3L448.9 123.4L452.4 120.5L459.5 118.4L466.6 117.7L467.3 119.1L460.9 120.5L455.2 122.7L451.7 126.2L453.8 129L457.4 130.5L452.4 130.9L448.9 129.7Z" fill="#fdbb84" stroke="#fdbb84"/>
<path d="M426.9 110.6L435.4 110.2L434.7 111.6L430.5 112Z" fill="#fdbb84" stroke="#fdbb84"/>
<path d="M493.5 110.6L499.2 109.9L508.4 112.7L507.6 114.9L502 114.2L496.3 112.7Z" fill="#fdbb84" stroke="#fdbb84"/>
<path d="M510.5 113.5L516.9 114.2L517.6 115.9L511.2 115.3Z" fill="#fdbb84" stroke="#fdbb84"/>
<path d="M574 120L586 120.6L586 122L576 122Z" fill="#fdbb84" stroke="#fdbb84"/>
<path d="M589 120.6L597 121.4L596.4 122.6L589 121.8Z" fill="#fdbb84" stroke="#fdbb84"/>
<path d="M639.2 169.2L642.9 172.4L647.7 177.7L654.1 182L652 182.5L655.2 186.8L657.3 189.4L655.2 188.9L652 185.2L648.8 180.9L644.5 175.6L640.8 171.3Z" fill="#fdbb84" stroke="#fdbb84"/>
<path d="M655.4 191.7L657.8 193.1L662.1 195L664.9 194L666.8 196.9L664.4 198.3L663 200.2L660.6 199.7L658.7 201.2L656.4 199.3L655.9 196.9L657.3 195Z" fill="#fef0d9" stroke="#fef0d9"/>
<path d="M659.7 202.1L662.1 202.6L664.4 205.4L665.9 208.3L666.3 212.6L668.2 216.4L667.3 218.7L664 219.7L661.6 221.1L659.7 222.5L657.8 221.1L656.4 222.5L654.5 224L652.1 223.5L653 225.9L652.1 228.7L650.2 228.2L648.8 225.9L646.4 223.5L648.3 221.6L650.2 219.7L652.6 217.8L656.4 216.8L657.8 215.4L657.8 213L659.7 213.5L661.6 211.1L661.1 207.3L659.7 204.5Z" fill="#fef0d9" stroke="#fef0d9"/>
<path d="M634.3 244.2L636.4 243.5L636.9 248.5L635.5 252.5L633.6 249.2Z" fill="url(#hatch)" stroke="#fff"/>
<path d="M609.5 259.1L613.1 257.7L614.5 259.8L612.4 262.4L610 261.5Z" fill="#fdbb84" stroke="#fdbb84"/>
<path d="M582.4 296.4L585.7 295.5L588.6 297.4L592.4 301.6L596.2 305L600.4 308.3L602.8 310.7L602.3 313.5L606.6 316.4L607.6 320.2L607.1 324.4L605.2 325.9L602.3 323.5L599 319.2L595.2 313.5L592.4 307.8L588.6 303.1L585.2 299.3Z" fill="#fdbb84" stroke="#fdbb84"/>
<path d="M614.7 305.4L618 303.5L621.8 301.6L624.7 299.3L627.5 296.4L630.4 293.6L632.1 291.8L634.6 294L637.8 295.9L636.1 297.8L634.6 299.3L635.1 303.1L636.5 306.4L637 307.8L635.1 308.3L634.2 311.6L632.7 315.4L631.3 318.7L628.5 320.6L625.6 318.7L621.8 318.7L618 317.3L616.6 313.5L614.7 309.7Z" fill="#fdbb84" stroke="#fdbb84"/>
<path d="M614.7 305.4L618 303.5L621.8 301.6L624.7 299.3L627.5 296.4L630.4 293.6L632.1 291.8L634.6 294L637.8 295.9L636.1 297.8L634.6 299.3L631.8 299.3L629.4 301.6L627.5 305.4L624.7 306.4L621.8 306.4L619 307.8L616.6 307.8L615.6 306.4Z" fill="#fdd49e" stroke="#fdd49e"/>
<path d="M639.4 308.8L642.7 307.3L647.5 307.3L651.7 305.9L650.8 308.3L646.5 309.2L643.2 310.2L641.3 311.6L645.6 312.6L647.5 312.1L646.5 313.5L644.1 314L642.7 315.4L644.6 317.8L646.5 321.6L647 324L645.6 324.4L643.7 321.1L642.2 318.3L641.3 316.4L640.8 320.2L640.3 324L638.4 324.4L638.1 320.6L637.5 316.8L638.1 312.6Z" fill="#fdbb84" stroke="#fdbb84"/>
<path d="M606.1 325.9L608.5 325.4L612.3 326.8L618 327.3L621.8 328.7L625.6 330.4L628.6 331.4L628 332.5L624.7 332.2L620.9 331.1L616.6 331.3L612.3 329.7L608 328.2Z" fill="#fdbb84" stroke="#fdbb84"/>
<path d="M631.8 332L634.6 331.3L636.5 331.7L634.2 333.5L632.1 333.3Z" fill="#fdbb84" stroke="#fdbb84"/>
<path d="M638.9 331.7L642.7 332L645.6 331.3L645.4 332.3L641.8 333L639.4 332.8Z" fill="#fdbb84" stroke="#fdbb84"/>
<path d="M636.5 334.4L638.9 334.2L640 336.3L638.1 336.3Z" fill="#fdbb84" stroke="#fdbb84"/>
<path d="M646.3 336.3L648.9 333.9L650.8 333L651.7 333.5L649.8 335.4L647.5 336.8Z" fill="#fdbb84" stroke="#fdbb84"/>
<path d="M650.8 333L655.1 331.6L655.5 332.2L652.2 333.6L651.7 333.5Z" fill="#e34a33" stroke="#e34a33"/>
<path d="M657.4 304.9L658.8 305.2L659.2 309.2L658.1 311.3L657.1 308.5Z" fill="#fdbb84" stroke="#fdbb84"/>
<path d="M653.5 318.4L655.9 317.9L655.9 319.4L653.8 319.4Z" fill="#fdbb84" stroke="#fdbb84"/>
<path d="M657.8 317.7L662.3 317L664.4 319.1L660.2 318.8Z" fill="#fdbb84" stroke="#fdbb84"/>
<path d="M671.5 324.7L672.9 324L673.4 326.9L672 327.3Z" fill="#fdbb84" stroke="#fdbb84"/>
<path d="M664.4 312.7L668 311.3L671.5 312.7L672.9 315.5L670.1 317L668 317.7L670.8 320.5L675.1 318.4L677.9 315.5L682.2 314.1L688.1 317L687.1 334L684.3 331.1L680 331.8L682.2 328.3L679.3 324.7L675.1 321.2L671.5 321.9L668.7 319.1L666.6 315.5Z" fill="#fdbb84" stroke="#fdbb84"/>
<path d="M688.1 317L692.1 318.4L697 321.2L699.2 324.7L703.4 326.9L701.3 329.7L704.8 333.2L709.1 336.8L707.6 337.5L704.1 336.1L700.6 333.2L697.7 330.4L693.5 332.5L689.9 334L687.1 334Z" fill="#e34a33" stroke="#e34a33"/>
<path d="M704.1 324.7L707.6 325.5L711.9 324L714.7 321.9L715.4 319.1L713.3 317.7L711.9 316.2L713 316L716.4 319.1L715.9 322.6L712.6 325L707.6 326.4L704.5 325.9Z" fill="#e34a33" stroke="#e34a33"/>
<path d="M719.1 323.4L719.9 323.1L721.9 327.1L721.1 327.7Z" fill="#e34a33" stroke="#e34a33"/>
<path d="M722.5 327.1L723.3 326.5L725.3 328.5L724.5 329.2Z" fill="#e34a33" stroke="#e34a33"/>
<path d="M727.3 329.4L728.2 328.8L731.3 331.4L730.4 332.1Z" fill="#e34a33" stroke="#e34a33"/>
<path d="M729.6 334.2L730.7 333.6L732.4 335.6L731.3 336.3Z" fill="#e34a33" stroke="#e34a33"/>
<path d="M732.1 331.9L733.3 331.5L734.7 336.5L733.8 337Z" fill="#e34a33" stroke="#e34a33"/>
<path d="M733.5 337L734.7 336.7L735.5 338.2L734.4 338.6Z" fill="#e34a33" stroke="#e34a33"/>
<path d="M770.4 353.2L773.2 352L773.6 352.6L770.8 353.7Z" fill="#fc8d59" stroke="#fc8d59"/>
<path d="M637.4 261.8L640.8 262.1L641.9 264.8L641.1 267.8L641.1 270.8L642.6 272.6L645.3 273L647.1 274.9L646.4 276.4L644.5 275.3L642.6 274.9L640.8 273.8L639.3 273.8L638.5 271.1L636.6 269.3L637 266.3L637 263.3Z" fill="#e34a33" stroke="#e34a33"/>
<path d="M638.5 274.9L640.8 275.3L641.1 277.5L639.6 277.1Z" fill="#e34a33" stroke="#e34a33"/>
<path d="M647.5 277.1L649.8 277.1L651.3 279.8L650.9 282L649.4 282.4L649 280.1L647.5 279Z" fill="#e34a33" stroke="#e34a33"/>
<path d="M642.3 279.4L644.9 279.8L645.6 281.3L644.1 282.4L643 281.3Z" fill="#e34a33" stroke="#e34a33"/>
<path d="M644.9 282.8L646.4 282.4L646.8 284.6L645.6 285.8L644.7 284.6Z" fill="#e34a33" stroke="#e34a33"/>
<path d="M646.8 280.9L647.9 281.3L647.5 283.9L646.8 283.5Z" fill="#e34a33" stroke="#e34a33"/>
<path d="M643.4 290.3L645.3 288.4L647.5 287.6L649.8 286.5L651.6 285L653.1 286.5L654.1 290.3L653.1 293.3L651.6 295.5L650.1 293.6L649 291.8L647.5 289.9L645.6 290.6L644.1 291.8Z" fill="#e34a33" stroke="#e34a33"/>
<path d="M632.1 287.6L633.6 285.8L635.5 283.1L637.4 280.5L637.8 281.3L635.9 284.3L634 286.9L632.5 288.2Z" fill="#e34a33" stroke="#e34a33"/>
<path d="M614 399L618 393L617 385L616 378L619 372L620 368L630 363L638 360L643 354L650 348L654 346L658 349L666 340L676 342L673 347L682 356L686 351L688 341L690 338L692 343L694 349L696 357L700 363L702 369L706 377L705 385L700 393L692 401L686 408L680 412L674 411L668 410L665 405L664 397L659 400L658 395L652 393L644 392L636 395L628 397L620 401L616 401Z" fill="#fef0d9" stroke="#fef0d9"/>
<path d="M669 417L677 416L675 420L670 424L667 423Z" fill="#fef0d9" stroke="#fef0d9"/>
<path d="M739 400L741 402L742 407L747 408.6L744 412L739 415L733 418.6L732 416L736 412L738 408Z" fill="#fef0d9" stroke="#fef0d9"/>
<path d="M728 416L731 417.4L724 423L716 428L709 431.4L705 430L709 426L718 422Z" fill="#fef0d9" stroke="#fef0d9"/>
<path d="M734 363L735.6 362L740.4 367.4L739 368.6Z" fill="url(#hatch)" stroke="#fff"/>
<path d="M743 348.6L744.4 348.2L745.2 352.6L743.6 353Z" fill="#b30000" stroke="#b30000"/>
<path d="M766 355.4L769 354.6L769.4 356.6L767 357.4Z" fill="#fc8d59" stroke="#fc8d59"/>
<path d="M422.1 199.2L422.9 195.8L423.8 192.9L425.4 190.4L427.1 188.8L429.6 189.2L431.7 190.8L433.3 192.9L434.6 193.8L437.1 192.9L440 192.5L442.5 193.8L445 195.4L447.5 197.1L449.6 198.8L450.4 200.8L448.8 202.3L445.8 202.7L442.9 202.1L440 200.8L437.1 200.4L434.2 200L431.7 200.8L429.2 202.1L426.2 201.8L423.8 200.8Z" fill="#fff" stroke="#fff"/>
<path d="M435 189.2L437.1 187.9L440 187.9L441.2 189.2L440.4 190.8L437.9 191.7L435.8 191.2Z" fill="#fff" stroke="#fff"/>
<path d="M460 193.3L462.5 190L465.8 187.9L469.6 187.9L472.1 189.2L472.5 191.2L470.4 192.5L468.8 194.2L469.6 196.2L471.7 198.8L473.3 200.8L475.4 200L477.9 200.8L478.8 202.5L477.1 203.8L475.4 203.3L475 205L477.1 207.9L478.8 210.4L478.3 212.9L475.8 213.8L472.9 213.3L470.4 211.7L468.8 209.2L468.3 206.7L469.6 204.2L467.5 202.1L465 200.4L463.3 197.9L462.1 195.8Z" fill="#fff" stroke="#fff"/>
</g>
<g id="map-lines" fill="none" stroke="#333" stroke-width="0.5" stroke-linejoin="round" stroke-linecap="round">
<path d="M81 136L82 135L94 132L108 130L128 132.6L128.3 132.5L133.3 134.2L143.3 132.5L151.7 131.7L158.3 132.5L167.5 134.2L169.2 137L176.7 137.7L183.3 135.8L191.7 137.5L197.5 136.7L203.3 137.7L208.3 136.3L209 132.5L209.7 129.7L214.2 128.3L216.3 131.7L215 135.8L218.7 133.3L220 139.2L210 141.7L200.8 147.5L193.3 150.8L187.5 155.8L188.3 160.8L192.5 163.3L199.2 165.3L203.3 168.3L202.5 173.3L205 176.3L209.2 174.2L210 169.2L216.7 165L218.3 159.2L220.8 150.8L223 150L230 149L235 153L237 158L242 155L245 154L246 162L250 167L253.8 170.8L254.2 173.3L252.1 175.4L248.3 177.1L245 178.8L240.8 180L237.5 179.6L233.3 179.2L230 180L226.7 181.7L223.3 183.8L220 186.2L218.3 187.1L221.7 186.2L225 184.2L229.2 182.1L232.1 181.8L233.3 183.3L231.2 185L230.4 187.9L232.5 189.2L235 189.6L237.9 188.3L239.6 187.5L239.6 190L236.7 191.7L232.5 193.3L229.2 195L225.8 196.2L225 195L227.9 192.9L229.6 191.7L226.7 192.1L224.2 192.1L223.3 192.5L220 194.2L216.7 196.2L215 198.8L215.4 200.8L213.3 201.2L210.8 202.5L207.9 203.8L205.8 206.2L202.5 207.9L200.8 210L199 212L199.6 215L197 218L190 223L184 229L182.4 234L184 240L182.4 243.6L180 242L178 235L176 231L170 230L164 231L158 232L153 234L148 237L145 241L142 239L137 233.6L131 232L127 227.6L120 228.4L114 226L105 224L100 218L99 210L102 200L107 192L112 186L115 182.4L115 183L109.6 178L109 169L111 168L114 165L113 158L108 157L104.4 154.6L94 154L88 153L70 160L44 168.6L68 158.6L62 156L60 153L70 147.4L80 144L71 143L71.6 141L81 140ZM108.4 177.6L112 179L115.6 184L113.6 185L110 181.6ZM103.6 170L106 169.4L105.2 174L103.6 174.6ZM242.1 185.4L245 183.3L248.3 178.8L251.7 175.8L251.2 178.3L250 180.4L253.3 180.8L255.8 182.9L255.8 186.7L254.2 188.3L252.1 186.2L249.6 187.1L247.5 185.8L244.2 186.2ZM159.2 128.3L166.7 124.2L178.3 123.3L180 125L175 126.7L168.3 127.5L170 130.8L163.3 130.8L160 130ZM168.3 130.8L175.8 127.5L183.3 126.7L190 125L195.8 125L193.3 130L196.7 132.5L196.7 134L191.7 134.8L183.3 133.8L176.7 134.8L169.2 134L168.3 132.5ZM175.8 118.3L188.3 116.3L190 118.3L185 119.7L191.7 120.8L196.7 118L200 119.7L198.3 121.7L190 122.5L185 121.3L180 120.8ZM195 115.3L201.7 114.2L200.8 116.7L195.8 116.7ZM208.3 114.2L215 113.7L215.3 115.8L210 115.8ZM218.3 114.7L221.7 115.3L220.8 117.5L218 116.7ZM205.8 120L213.3 118.3L216.7 120.8L210 122.5ZM219.2 119.2L226.7 120L238.3 120.8L237.5 122.5L226.7 122.5L220 121.7ZM200 125L206.7 124.2L209.2 126.7L205 130L200.8 129.2ZM225 113L236 110L250 107.4L278 107.4L270 111L254 116L246 118L238 120L230 122L222 122L220 119L228 116ZM216 129L222 125L236 125L242 129L249 131L251 136L256 139L253 143L248 142L246 147L240 149L234 146L232 143L225 145L224 143L236 140L236 136L232 134L228 135L224 133L219 133ZM210.8 143L218.3 143.7L220 146.7L214.2 148.7L210 145.8ZM321 142L325 140L332 140L338 141.4L338.4 144L333 146.6L326 146.6L322 145ZM48 143L60 135L63 139L68 140L67 142L58 145L53 141ZM68 129.5L72 128.8L72.5 130L69 130.6ZM9 256L11 257.5L10.5 259.5L9 258.5ZM5 253L7 253.5L6.5 254.5ZM105 224L109 227L110 234L113 242L116 249L115 250L110 242L107 236L105.6 229ZM109.6 225L114 226L120 228.4L127 227.6L131 232L137 233.6L142 239L145 241L143 246L142.4 252L145 259L150 262L156 259L160 254.4L165 254L166 255L162 261L160 263L155 264L153 268.4L148 268L140 267L132 263L125 258L124 252L120 244L115 234L112 227ZM152.4 270L155.3 267.6L155.9 264.1L159.4 263.5L160 267.6L162.4 269.2L160 271.8L157.6 273.5L154.1 272.9ZM159.4 263.5L162.4 262.4L161.8 267.6L160 267.6ZM162.4 269.2L166.5 268L172.4 269.2L171.8 270.8L167.1 273.5L164.1 275.3L162.9 273.5L160 271.8ZM157.6 273.5L160 272.4L162.9 274.1L162.4 275.3L158.8 274.7ZM164.1 275.3L167.1 273.5L172.4 270.8L171.8 276.5L170.6 281.2L167.1 280.6L164.1 277.6ZM166.5 281.2L170.6 281.8L172.9 285.3L172.4 288.2L170 286.5L167.6 284.1ZM172.9 285.9L176.5 287.1L180 285.3L183.5 285.9L185.3 288.2L184.7 290.6L182.9 288.2L180 288.2L177.6 291.2L175.3 289.4L173.2 288.2ZM171.2 252.4L174.1 250.6L180 249.6L184.7 251.2L188.2 254.1L192.9 255.9L194.7 257.4L191.8 258.2L187.1 257.6L186.5 255.9L182.4 253.5L177.6 251.8L173.5 252.4ZM185.3 261.8L188.2 261.4L190 262.9L187.1 263.5ZM194.1 261.2L197.6 260.9L197.1 258.2L200 258.2L200.2 262.9L198.2 262.4L194.4 262.6ZM200 258.2L204.1 258.6L207.6 261.2L204.1 262.6L200.2 262.9ZM187.1 240L190.6 240.2L190 241.8L187.6 241.4ZM187.1 244.7L188.5 244.9L188.2 247.6L187.3 247.1ZM184.9 287.7L189.1 282.1L194.1 279.2L199 277.1L200.5 279.2L197.6 282.8L198.3 285.6L200.5 283.5L201.9 279.2L206.8 282.1L212.5 282.8L218.2 283.5L223.1 282.1L223.8 284.2L222.7 287L225.9 288.5L229.5 292L232.3 294.8L238 294.8L240.8 295.5L244.4 299.1L247.2 303.3L247.9 308.3L252.2 311.1L260.7 316.1L270.6 317.5L279.1 322.5L283.3 328.8L281.9 334.5L279 339L275 345L274 353L272 361L269 368L262 371L256 375L254 381L254 387L249 394L246 400L239 401L237 399L239 404L241 407L238 411L230 412L227 416L230 420L227 423L228 428L225 432L230 434L228 438L229 444L227 446L232 450L237 452L234 454L228 453L220 450L215 446L211 439L209 431L210 423L208 421L206 411L207 401L205 391L206 381L205 371L203 357L196 352L189 347L184 338L180.6 331.7L175.7 322.5L177.1 319.6L176.4 314.7L178.5 309L182 305.5L184.9 299.1L184.2 293.4ZM334.9 237.7L337.7 234.8L342 229.2L342.7 224.9L346.2 220.7L350.2 215.3L354 216.7L359 217.1L367.5 215.7L379.5 215L385.9 215L388 219.2L386.2 222.1L388 223.5L393 224.2L400.1 227L406.4 229.2L408.6 225.6L414.2 224.9L417.8 227.7L423.5 229.2L430.6 228L434.8 229.9L438.4 229.2L440.5 234.1L439.1 236.2L436.2 232.7L435.5 233.4L439.8 241.9L444.7 251.1L446.9 257.5L449 263.9L451.8 266L455.4 270.2L458.9 274.5L461.7 277.3L463.2 280.2L462.5 282.3L466 281.6L474.5 279.4L480.2 278.7L479.4 285.8L475.9 294.3L475 295.7L469.3 302.7L463.7 309.1L458.7 313.4L455.9 317.6L453 322.6L453.7 328.2L454.4 333.9L455.9 338.2L455.4 343.8L455.9 348.1L452.3 353.7L446.7 359.4L442.4 362.9L442.4 364L443 371L440 374L436 380L433 387L428 393L422 397.4L414 398.6L408 400.6L404 399L403 394L400 385L396 375L393 365L389 354L391 343L394 335L392.9 334.3L392.2 328.7L391.5 323L388.7 319.4L385.1 315.9L383.7 313.1L385.1 309.5L384.4 306L385.1 302.5L383 298.9L380.2 298.2L376.6 298.2L374.5 295.4L371.7 294L366 294.7L360.3 296.8L356.1 296.1L349 296.8L344.7 298.2L341.2 296.1L337.7 292.5L333.4 288.3L330.6 283.3L327 279.8L324.9 276.2L322.8 272L325.6 266.3L324.9 255L326 266L325 254L327 247L330 241ZM476 342L478 349L474 359L470 369L468 375L464 376.6L461 373L461 367L464 359L465 353L470 350L473 345ZM412.5 134.7L416.3 132.9L424.1 134L431.2 136.5L433.3 139.7L431.9 142.5L428.3 143.9L426.2 142.5L423.4 140.4L421.2 141.1L425.5 145.3L430.5 143.9L434.7 141.1L438.2 140.4L436.8 136.1L440.4 136.1L442.5 137.5L441.1 139.7L445.3 138.2L451 136.1L456.7 135.4L463 133.3L468 134L473.7 134.7L477.2 136.1L478.6 134.7L475.1 131.9L472.2 129L474.4 126.2L478.6 126.2L480.7 128.3L482.2 131.2L485 134.7L487.1 138.2L488.5 140.4L489.9 139L489.2 136.1L486.4 132.6L483.6 129L482.9 126.2L485 127.6L488.5 128.3L490.7 124.8L494.9 126.2L499.2 123.4L497.7 122L504.8 120.5L511.9 118.4L518.3 116.3L519 116.6L536 119.4L538 123L556 125L570 125L578 129L590 128L586 125L598 127L614 130L630 132L646 133.4L654 132L664 134L670 138L676 142L679.6 145L686 148.6L681.8 150L679.7 151.1L676.5 154.8L671.2 154.8L665.8 155.3L666.9 158.5L670.1 161.7L674.4 167.1L675.4 171.9L674.9 177.5L670.1 173.5L664.8 169.2L659.4 163.9L657.8 160.1L660.5 154.3L660 150L657.3 150L656.2 153.2L650.9 152.1L648.8 154.8L650.9 157.5L647.7 156.4L641.3 155.9L637.1 156.4L628.5 158.5L626.4 162.8L624.3 167.1L628.5 168.7L632.8 169.7L637.1 170.3L641.3 172.9L644 177.2L645.6 182L646.1 187.3L645.1 192.6L642.4 196.9L639.2 198.5L637.1 200.6L634.9 204L636.3 207.5L640.5 209.7L643.4 216.7L640.5 219.6L637 219.6L635.6 214.6L634.2 210.4L632 211.1L629.9 207.5L627.8 204.7L624.9 206.8L622.1 205.4L620 204L615.7 207.5L618.6 211.1L622.8 211.8L627.1 212.5L625.7 215.3L622.8 218.2L627.1 222.4L631.3 226.7L633.4 230.9L632.7 236.6L629.9 242.2L627.2 247.1L623.8 250.9L620.2 253.1L616.6 254L613.5 254.9L612.7 257.2L611.7 254.7L609.4 253.6L605.8 254L604 256.3L602.7 258.5L603.6 260.8L606.7 263.9L609.4 267.1L611.7 270.2L613 273.8L613.5 277.4L612.1 281L609.4 283.7L606.7 286L604.5 287.3L604 284.6L603.6 282.4L600.4 281L598.6 278.3L597.3 277L594.6 275.6L592.8 274.7L591.4 276.1L591 279.2L591.9 282.8L593.2 286.4L594.1 290L595.7 292.1L597.6 293.1L599.5 295L601.4 298.8L602.8 303.1L603.6 306.4L601.9 306.9L599 304L596.2 300.7L594.3 296.4L594.3 293.6L591.4 290.2L589.5 287.9L589.2 286.4L590.1 282.8L589.2 281L588.3 276.5L586.5 271.6L584.7 267.1L583.8 266.6L581.5 267.5L579.3 268.4L577.5 267.5L578.4 264.8L576.6 262.1L574.8 259L573 256.3L572.1 253.6L570.1 250.3L568 251L565.9 252.5L563.7 252.5L560.9 256L556.7 260.2L552.4 264.5L547.5 268.7L545.3 273.7L546 280.1L545.3 286.4L542.5 289.6L540.4 287.2L537.5 281.5L534 273L531.2 265.9L529 259.5L527.6 254.6L522.7 255.3L517.7 247.5L514.9 245.4L511.3 243.2L505.7 242.5L501.4 243.2L501.2 244.4L496.6 243.7L492.3 242.6L490.5 240.8L489.4 239.4L486.9 240.1L484.4 240.8L481.5 239.4L478.7 237.6L476.5 235.8L474.7 233.3L472.9 231.5L470.1 231.8L470.4 234.3L471.5 236.5L473.3 239L475.1 241.5L476.1 242.9L477.2 242.2L478.7 242.9L478.3 244.4L479.4 246.5L481.5 247.2L484.4 246.9L485.8 245.8L487.3 244L488.7 242.2L490.1 242.2L489.4 244.4L490.8 246.5L493.7 248.3L496.6 250.1L498 251.9L495.9 255.1L494.1 258L492.3 263L491.5 261.7L487.2 264.6L483.7 266L485 267L481 269.5L475 272.5L468 275.5L463 277.5L462 275.5L460.8 271L460.5 267L458 264L455 260L452.5 256L451 252L448.5 248.5L445 244L442.5 240L440 236.5L440.5 234.1L438.4 229.2L439.8 225.6L441.2 220.7L441.9 217.8L442.6 215L442.6 214.6L441.2 212.5L437 213.9L431.3 212.5L425.7 213.9L422.1 212.5L420 208.2L421.4 204.7L423.5 201.9L420 203.3L417.2 204L414.3 204.7L412.2 206.8L413.6 211.8L410.8 213.9L408.7 211.1L406.5 207.5L405.1 203.3L403 200.5L398 197.6L394.5 194.8L390.9 192L388.8 193.4L389.5 196.9L391.7 200.5L395.9 204.7L400.2 206.8L400.9 209L398 209.7L397.3 212.5L395.2 213.2L395.2 210.4L393.1 208.2L388.8 204.7L383.9 199.7L380.3 196.2L377.5 198.3L373.2 197.6L369.7 199.7L366.9 203.3L363.3 206.8L361.2 211.1L356.2 213.9L352 216L348.5 213.9L345.6 212.5L343.5 210.4L344.9 204L343.5 200.5L344.2 196.9L345.6 195.8L353.4 196.5L361.9 195.8L360.5 191.6L359.8 186.6L356.2 185.2L354.1 183.1L359.8 181.7L360.5 178.8L363.3 176.7L366.9 177.4L370.4 175.3L373.2 172.5L376.1 170.3L379.6 169.2L380.3 168.2L379.6 166.1L379.2 162.5L381 161.1L382.9 162.5L383.2 166.1L383.9 168.2L387.4 168.9L391.7 169.6L397.3 168.2L401.6 167.5L403 166.1L403 164.4L404.4 162.5L406.5 160.4L405.8 158.3L408.7 157.3L415.7 156.9L416.4 155.9L415.7 155L413.6 154.7L408.7 155.5L404.4 154L402.3 151.2L403 147.7L405.8 143.4L404.4 141.3L401.6 142.7L398.7 144.8L396.6 149.1L398 153.3L397.3 156.9L394.5 160.4L392.4 163.2L390.2 166.1L388.1 164.9L386 163.2L384.6 159.7L383.9 156.9L380.3 159L375.4 158.3L372.5 155.5L372.5 151.2L377.5 148.4L383.2 144.8L387.4 140.6L391.7 136.3L397.3 132.8L403 130.7L408.7 130.7L412.2 133.5ZM547.5 285L549.6 286.4L550.7 290L549.6 292.1L547.5 291.7L546.5 287.9ZM352 159.7L356.2 158.3L357.7 160.4L356.2 163.2L359.8 165.4L362.6 170.3L365.5 173.2L366.2 175.3L363.3 176.7L357.7 178.1L352 179.5L353.4 176.7L356.2 175.3L353.4 173.9L355.5 171L354.1 167.5L352.7 164ZM344.2 170.3L348.5 166.8L351.3 168.2L350.6 172.5L347 174.6L343.5 174.6ZM389.5 211.1L395.9 211.1L395.2 213.9L390.9 213.2ZM380.6 199L383.2 198.3L383.9 206.8L381 207.5ZM413.6 216.7L420 217.5L419.7 218.9L414 218.2ZM433.4 217.5L438.4 216.5L437 218.9L434.2 219.3ZM378 112.6L388 111L401 112L398 115L392 116L388 118.6L384 115ZM446.7 128.3L448.9 123.4L452.4 120.5L459.5 118.4L466.6 117.7L467.3 119.1L460.9 120.5L455.2 122.7L451.7 126.2L453.8 129L457.4 130.5L452.4 130.9L448.9 129.7ZM426.9 110.6L435.4 110.2L434.7 111.6L430.5 112ZM493.5 110.6L499.2 109.9L508.4 112.7L507.6 114.9L502 114.2L496.3 112.7ZM510.5 113.5L516.9 114.2L517.6 115.9L511.2 115.3ZM574 120L586 120.6L586 122L576 122ZM589 120.6L597 121.4L596.4 122.6L589 121.8ZM639.2 169.2L642.9 172.4L647.7 177.7L654.1 182L652 182.5L655.2 186.8L657.3 189.4L655.2 188.9L652 185.2L648.8 180.9L644.5 175.6L640.8 171.3ZM655.4 191.7L657.8 193.1L662.1 195L664.9 194L666.8 196.9L664.4 198.3L663 200.2L660.6 199.7L658.7 201.2L656.4 199.3L655.9 196.9L657.3 195ZM659.7 202.1L662.1 202.6L664.4 205.4L665.9 208.3L666.3 212.6L668.2 216.4L667.3 218.7L664 219.7L661.6 221.1L659.7 222.5L657.8 221.1L656.4 222.5L654.5 224L652.1 223.5L653 225.9L652.1 228.7L650.2 228.2L648.8 225.9L646.4 223.5L648.3 221.6L650.2 219.7L652.6 217.8L656.4 216.8L657.8 215.4L657.8 213L659.7 213.5L661.6 211.1L661.1 207.3L659.7 204.5ZM609.5 259.1L613.1 257.7L614.5 259.8L612.4 262.4L610 261.5ZM582.4 296.4L585.7 295.5L588.6 297.4L592.4 301.6L596.2 305L600.4 308.3L602.8 310.7L602.3 313.5L606.6 316.4L607.6 320.2L607.1 324.4L605.2 325.9L602.3 323.5L599 319.2L595.2 313.5L592.4 307.8L588.6 303.1L585.2 299.3ZM614.7 305.4L618 303.5L621.8 301.6L624.7 299.3L627.5 296.4L630.4 293.6L632.1 291.8L634.6 294L637.8 295.9L636.1 297.8L634.6 299.3L635.1 303.1L636.5 306.4L637 307.8L635.1 308.3L634.2 311.6L632.7 315.4L631.3 318.7L628.5 320.6L625.6 318.7L621.8 318.7L618 317.3L616.6 313.5L614.7 309.7ZM614.7 305.4L618 303.5L621.8 301.6L624.7 299.3L627.5 296.4L630.4 293.6L632.1 291.8L634.6 294L637.8 295.9L636.1 297.8L634.6 299.3L631.8 299.3L629.4 301.6L627.5 305.4L624.7 306.4L621.8 306.4L619 307.8L616.6 307.8L615.6 306.4ZM639.4 308.8L642.7 307.3L647.5 307.3L651.7 305.9L650.8 308.3L646.5 309.2L643.2 310.2L641.3 311.6L645.6 312.6L647.5 312.1L646.5 313.5L644.1 314L642.7 315.4L644.6 317.8L646.5 321.6L647 324L645.6 324.4L643.7 321.1L642.2 318.3L641.3 316.4L640.8 320.2L640.3 324L638.4 324.4L638.1 320.6L637.5 316.8L638.1 312.6ZM606.1 325.9L608.5 325.4L612.3 326.8L618 327.3L621.8 328.7L625.6 330.4L628.6 331.4L628 332.5L624.7 332.2L620.9 331.1L616.6 331.3L612.3 329.7L608 328.2ZM631.8 332L634.6 331.3L636.5 331.7L634.2 333.5L632.1 333.3ZM638.9 331.7L642.7 332L645.6 331.3L645.4 332.3L641.8 333L639.4 332.8ZM636.5 334.4L638.9 334.2L640 336.3L638.1 336.3ZM646.3 336.3L648.9 333.9L650.8 333L651.7 333.5L649.8 335.4L647.5 336.8ZM650.8 333L655.1 331.6L655.5 332.2L652.2 333.6L651.7 333.5ZM657.4 304.9L658.8 305.2L659.2 309.2L658.1 311.3L657.1 308.5ZM653.5 318.4L655.9 317.9L655.9 319.4L653.8 319.4ZM657.8 317.7L662.3 317L664.4 319.1L660.2 318.8ZM671.5 324.7L672.9 324L673.4 326.9L672 327.3ZM664.4 312.7L668 311.3L671.5 312.7L672.9 315.5L670.1 317L668 317.7L670.8 320.5L675.1 318.4L677.9 315.5L682.2 314.1L688.1 317L687.1 334L684.3 331.1L680 331.8L682.2 328.3L679.3 324.7L675.1 321.2L671.5 321.9L668.7 319.1L666.6 315.5ZM688.1 317L692.1 318.4L697 321.2L699.2 324.7L703.4 326.9L701.3 329.7L704.8 333.2L709.1 336.8L707.6 337.5L704.1 336.1L700.6 333.2L697.7 330.4L693.5 332.5L689.9 334L687.1 334ZM704.1 324.7L707.6 325.5L711.9 324L714.7 321.9L715.4 319.1L713.3 317.7L711.9 316.2L713 316L716.4 319.1L715.9 322.6L712.6 325L707.6 326.4L704.5 325.9ZM719.1 323.4L719.9 323.1L721.9 327.1L721.1 327.7ZM722.5 327.1L723.3 326.5L725.3 328.5L724.5 329.2ZM727.3 329.4L728.2 328.8L731.3 331.4L730.4 332.1ZM729.6 334.2L730.7 333.6L732.4 335.6L731.3 336.3ZM732.1 331.9L733.3 331.5L734.7 336.5L733.8 337ZM733.5 337L734.7 336.7L735.5 338.2L734.4 338.6ZM770.4 353.2L773.2 352L773.6 352.6L770.8 353.7ZM637.4 261.8L640.8 262.1L641.9 264.8L641.1 267.8L641.1 270.8L642.6 272.6L645.3 273L647.1 274.9L646.4 276.4L644.5 275.3L642.6 274.9L640.8 273.8L639.3 273.8L638.5 271.1L636.6 269.3L637 266.3L637 263.3ZM638.5 274.9L640.8 275.3L641.1 277.5L639.6 277.1ZM647.5 277.1L649.8 277.1L651.3 279.8L650.9 282L649.4 282.4L649 280.1L647.5 279ZM642.3 279.4L644.9 279.8L645.6 281.3L644.1 282.4L643 281.3ZM644.9 282.8L646.4 282.4L646.8 284.6L645.6 285.8L644.7 284.6ZM646.8 280.9L647.9 281.3L647.5 283.9L646.8 283.5ZM643.4 290.3L645.3 288.4L647.5 287.6L649.8 286.5L651.6 285L653.1 286.5L654.1 290.3L653.1 293.3L651.6 295.5L650.1 293.6L649 291.8L647.5 289.9L645.6 290.6L644.1 291.8ZM632.1 287.6L633.6 285.8L635.5 283.1L637.4 280.5L637.8 281.3L635.9 284.3L634 286.9L632.5 288.2ZM614 399L618 393L617 385L616 378L619 372L620 368L630 363L638 360L643 354L650 348L654 346L658 349L666 340L676 342L673 347L682 356L686 351L688 341L690 338L692 343L694 349L696 357L700 363L702 369L706 377L705 385L700 393L692 401L686 408L680 412L674 411L668 410L665 405L664 397L659 400L658 395L652 393L644 392L636 395L628 397L620 401L616 401ZM669 417L677 416L675 420L670 424L667 423ZM739 400L741 402L742 407L747 408.6L744 412L739 415L733 418.6L732 416L736 412L738 408ZM728 416L731 417.4L724 423L716 428L709 431.4L705 430L709 426L718 422ZM743 348.6L744.4 348.2L745.2 352.6L743.6 353ZM766 355.4L769 354.6L769.4 356.6L767 357.4ZM422.1 199.2L422.9 195.8L423.8 192.9L425.4 190.4L427.1 188.8L429.6 189.2L431.7 190.8L433.3 192.9L434.6 193.8L437.1 192.9L440 192.5L442.5 193.8L445 195.4L447.5 197.1L449.6 198.8L450.4 200.8L448.8 202.3L445.8 202.7L442.9 202.1L440 200.8L437.1 200.4L434.2 200L431.7 200.8L429.2 202.1L426.2 201.8L423.8 200.8ZM435 189.2L437.1 187.9L440 187.9L441.2 189.2L440.4 190.8L437.9 191.7L435.8 191.2ZM460 193.3L462.5 190L465.8 187.9L469.6 187.9L472.1 189.2L472.5 191.2L470.4 192.5L468.8 194.2L469.6 196.2L471.7 198.8L473.3 200.8L475.4 200L477.9 200.8L478.8 202.5L477.1 203.8L475.4 203.3L475 205L477.1 207.9L478.8 210.4L478.3 212.9L475.8 213.8L472.9 213.3L470.4 211.7L468.8 209.2L468.3 206.7L469.6 204.2L467.5 202.1L465 200.4L463.3 197.9L462.1 195.8Z" stroke-opacity="0.45"/>
<path d="M256 116.5L278.5 108.5L303.5 106.9L333 106.7L344.5 109.8L334 111.8L333.5 116L329 122.5L324.7 130L318.4 134.2L303.5 138.4L293 143.7L285.5 151L280.2 154.5L274 151.5L270.7 143L271.8 134.2L275 126.8L269.7 119.6L261.2 118ZM210 261.4L214.1 261.2L214.4 263.1L210.2 263.3ZM238 294.8L240.8 295.5L243.7 299.1L240.8 304L237.7 303.3L236.6 302.6L238 299.1ZM334.9 237.7L343.4 239.1L343.1 241.9L337 242.6L336.6 248.3L333.5 249L333.5 253.2L325 253.5L325 254L327 247L330 241ZM388 223.5L393 224.2L400.1 227L406.4 229.2L408.6 225.6L414.2 224.9L417.8 227.7L418.2 232L418.5 257.5L415.7 257.5L397.9 249L394.4 250.4L388.7 248.3L385.2 242.6L384.5 236.2L383.8 229.2L385.9 226.3ZM410.2 194.6L413.3 195.6L416.9 194.9L420.1 194.6L422.2 195.3L425.7 196.9L427.1 200.5L423.5 201.9L416.2 200.2L412.6 201.3L410.5 200.6L410.9 198.5L410.2 198.5L409.8 196ZM405.6 196.3L407.7 197.1L408.8 198.8L407.7 199.9L406.3 199.5L405.6 197.8ZM403.8 200.4L406 200.4L406.5 200.8L406.8 202.9L406.2 205.4L405 206.2L403.8 203.8ZM634.3 244.2L636.4 243.5L636.9 248.5L635.5 252.5L633.6 249.2ZM734 363L735.6 362L740.4 367.4L739 368.6Z" stroke="#aaa" stroke-opacity="0.4"/>
<path d="M176.2 322.5L179.9 322.5L184.2 318.9L188.4 316.1L190.5 311.8L194.8 316.1L199 316.8L200.5 320.3L196.2 323.2L193.4 327.4L194.8 333.1L199 334.5L200.5 337.3L204 338.7L204.7 343L205 342L205.6 351L205 357L203.5 357M204 338.7L208.2 337.3L211.8 335.9L213.2 340.9L218.2 343.7L223.8 345.8L225.9 351.5L224 347L226 352L230 354L231 360L224 361L221.6 365L218 368L213 367L210 369L207 361L205 357L205.6 351L205 342L204.7 343L204 338.7M221.6 365L224 361L231 360L236 367L239 370L241 375L239 380L234 381.4L232 378L234 374L229 371L224 369L221.6 365M232 295.2L230.2 297.7L230.9 301.9L232.3 304L229.5 306.2L226.7 306.2L225 302.6L225.2 299.8L222.4 297.7L223.8 294.8L221.7 292.7L224.5 289.2L225.4 288.8M238 295.3L238 299.1L236.6 302.6L233 304L230.9 301.9L230.2 297.7L232 295.2M387.7 223.9L385.9 226.3L383.8 229.2L384.5 236.2L385.2 242.6L388.7 248.3L371.7 260L367.5 257.5L349.8 244.7L344.1 239.8L343.4 239.1L335.4 237.8M444.7 252.5L418.5 252.5M418.5 252.5L417.8 252.5M418.5 252.5L418.2 232L417.8 228.2M325.6 253.5L333.5 253.2L333.5 249L336.6 248.3L337 242.6L343.1 241.9L343.4 239.1L344.1 239.8L349.8 244.7L349.1 245.5L350.5 269.5L337 269.5L334.2 270.9L330.7 268.1L326.4 266.7L325.9 266.6M325 266.5L325 266.5L325 263.9M417.8 252.5L444.7 252.5M448.8 264.3L446.9 267.4L446.2 271.7L443.3 277.3L441.2 281.6L438.4 278.7L437.7 282.3L433.4 283L429.2 285.1L423.5 284.4L420 285.8L417.8 282.3L416.4 281.6L414.2 277.3L414.9 272.4L417.8 268.8L418.5 257.5L417.8 252.5M397.9 291.1L400 288.3L405.7 286.9L411.3 284.7L414.9 281.2L417.7 286.9L421.9 292.5L425.5 296.1L419.8 296.8L414.2 296.1L408.5 296.8L405.7 298.9L402.1 301L400 303.9L399.3 300.3L397.2 295.4L397.9 291.1M458.7 312.8L458 304.2L460.8 299.2L469.3 295L474.5 287.2L469.5 285.1L463.3 282.6M388.7 304.6L392.2 304.3L394.3 306L395.7 310.2L396 315.2L392.9 316.6L390.8 317.3L389 319.1M385.5 309.5L388.7 309.5L388.7 304.6M410.4 359L415 357L421 356.6L426 365L429 368L424 372L420 376L415 377L411 380L408.4 378L408.4 373L410 367L410.4 359M400.5 385L404 385L408 383L408.4 378L411 380L415 377L420 376L424 372L429 368L433.6 369L434 376L435.8 379.5M423 387.4L426 385L428 387.4L425 390L423 387.4M432 376.6L434.4 376L435 379.4L432.6 380L432 376.6M412.8 135.1L414.3 139.2L416.4 144.8L419.3 149.8L416 154.6M415.7 157.4L415.5 160L416.2 162.8L416.2 164.9L419 165.3L421.8 166.7L423.6 169.2L426.4 171.3L425 172.7L426.8 174.5L429.6 174.1L431 175.9L433.5 178L436.6 178.7L440.2 180.1L443.3 181.2L443.7 184.3L441.9 186.5L440.2 187.2L437.3 187.9L435.2 188.9L435.6 190.3L438.8 191.4L437.3 192.8L434.9 192.5L433.5 193.9L431.7 191.4L431.3 190L428.9 188.9L427.1 188.6L426.1 189.6L425.3 191.4L424.3 192.1L423.6 193.2L422.2 193.9L422.2 195.3L425.7 196.9L427.1 200.5L423.9 201.7M423.9 201.7L427.1 200.5L426.2 201.8L429.2 202.1L431.7 200.8L434.2 200L437.1 200.4L440 200.8L442.9 202.1L445.8 202.7L448.8 202.3L450.4 200.8L455 202.9L460 203.3L461.2 205.8L462.9 207.5L465 206.7L466.7 207.9L468.8 209.2L470.4 211.7L472.9 213.3L475.8 213.8L478.3 212.9L478.8 210.4L477.1 207.9L475 205L475.4 203.3L477.1 203.8L478.8 202.5L477.9 200.8L479.2 201.2L480.8 201.7L482.5 202.1L484.6 200.4L487.1 199.2L490 201.2L493.3 203.3L496.7 205L500 207.1L502.5 208.8L505 210.4L506.7 211.7L504.2 212.9L501.7 215L499.6 216.7L496.7 217.1L496.1 219L496.1 222.7L498.2 225.9L498.7 230.2L500.3 233.4L501.9 236.6L503 240.3L502 242.6M457 181.9L461.2 176.2L467.6 174.8L477.5 177L484.6 177L481.7 174.1L482.5 169.9L490.2 167.7L497.3 166.3L501.6 169.2L508.7 169.9L512.2 168.5L520 174.1L525.7 177.7L532.7 179.1L539.8 181.2L537 185.5L532.7 186.9L533.4 190.4L528.5 193.2L532 198.2L525.7 198.9L518.6 197.5L512.2 198.2L509.6 203.8L508.3 204.8L505.8 202.9L502.9 200.4L500.4 197.5L497.5 195.4L494.2 195.8L490.8 195L487.1 192.5L483.8 191.2L480.8 191.7L478.3 192.5L479.6 195.8L480.4 198.3L480.8 201.7L479.2 201.2L477.9 200.8L475.4 200L473.3 200.8L471.7 198.8L469.6 196.2L468.8 194.2L470.4 192.5L472.5 191.2L472.1 189.2L469.6 187.9L465.8 187.9L462.5 190L457.7 186.9L457 181.9M507.3 207.8L509.9 205.7L511 203.5L512.6 205.1L516.3 204.1L520.1 205.7L523.3 209.9L521.7 213.1L517.9 214.7L516.3 213.1L514.7 210.5L511 213.1L507.3 212.6L507.3 207.8M517.6 246.9L519 246.2L522.7 245.6L520.6 242.4L519 239.2L521.7 236L524.3 232.8L525.9 229.1L527 224.9L524.3 221.7L524.9 220.1L528 219.5L531.2 217.4L532.8 217.9L535 221.7L536 225.9L539.8 229.1L541.9 230.7L540.8 232.8L543 235L548.3 237.6L554.7 239.8L559.5 240.8L560.9 239.2L563.2 240L567.5 239.8L568.6 237.6L571.8 235L574.4 233.4L578.2 234.4L580.3 237.1L577.6 238.7L575 241.9L573.9 245.1L572.8 248.3L571.8 251.5L571 250.9M496.1 219L499.3 216.9L503 213.7L507.3 212.6L511 213.1L514.7 210.5L516.3 213.1L517.9 214.7L521.7 213.1L525.4 214.2L528 215.8L531.2 217.4L528 219.5L524.9 220.1L524.3 221.7L527 224.9L525.9 229.1L524.3 232.8L521.7 236L519 239.2L520.6 242.4L522.7 245.6L519 246.2L517.6 246.9M510.5 243.6L506.2 244L501.7 244M502 242.6L503 240.3L501.9 236.6L500.3 233.4L498.7 230.2L498.2 225.9L496.1 222.7L496.1 219M541.9 230.7L544.6 231.2L550.4 233.9L556.3 236.6L560 237.6L559.5 240.8L554.7 239.8L548.3 237.6L543 235L540.8 232.8L541.9 230.7M561.1 237.1L565.4 236L568.6 237.6L567.5 239.8L563.2 240L560.9 239.2L561.1 237.1M560 241.9L563.2 242.4L566.4 244L569.6 245.1L570.2 247.8L571.8 251.5L571.4 251.5M570.3 251.5L569.1 251.5L567.5 252.6L567.1 252.2M566.5 251.5L565.4 250.4L563.2 247.2L561.1 244.6L560 241.9M581.3 234.5L582.9 236.5L584.2 239.6L583.8 243.2L585.6 247.7L587.4 250.9L589.6 253.6L591 254L590.1 256.3L587.4 257.6L585.6 259.9L584.7 262.1L585.6 265.3L587.4 269.3L589.2 274.7L590.5 279.2L590.2 282M570.5 250.1L571.6 249.5L574.3 246.8L575.7 242.3L577.5 238.3L579.7 236L581.3 234.5M591 254L593.2 251.8L595 253.6L597.7 255.4L600 257.2L599.1 259.9L601.8 261.7L603.6 263.9L606.3 266.6L607.6 269.8L608.1 272L605.8 272.9L604 270.7L602.7 267.5L600 263.9L596.8 262.6L592.8 263L592.3 259.4L590.1 256.3L591 254M597.7 274.7L599.5 272.9L602.7 272.5L605.8 272.9L608.1 272L609.4 274.7L609 277.9L606.7 279.2L605.8 281.5L604.3 284M597.4 276.5L597.7 274.7M593.2 251.8L595 250.9L599.1 249.5L602.2 250.4L604 252.7L605.4 253.7M604.3 284L605.8 281.5L606.7 279.2L609 277.9L609.4 274.7L608.1 272L607.6 269.8L606.3 266.6L603.6 263.9L601.8 261.7L599.1 259.9L600 257.2L597.7 255.4L595 253.6L593.2 251.8M594.8 293.8L596.6 294.5L597.3 293.5M540 182L549.2 178.5L557 177.8L558.4 175L565.5 177.8L571.8 179.2L581.7 180.6L590.9 179.9L595.9 180.6L598 184.2L603 185.6L607.5 187.7L601.6 189.8L597.3 191.2L594.5 195.5L590.2 198.3L584.6 200.5L576.1 199L565.5 198.3L560.5 195.5L553.4 192.7L548.5 189.1L545.6 184.9L540 182M628.4 204.8L630.2 202.6L634 200.7L636.9 198.8L637.2 199.9M635.1 205.7L635 206.4L635.6 207M636.9 208.3L637.8 209.2L635.5 210.7L634.8 210.8M630.8 208.2L630.7 207.8L630.5 207.6M635.5 210.7L637.8 209.2L640.9 211.8M643.1 214.9L643.5 215.4L643.5 215.8M643.5 217.2L643.5 217.8L641.6 219.7L640.8 219.9M640.3 220L639.3 220.3L639.1 220M638.4 219.2L637.4 217.8L636.4 214.5L635.5 210.7M460 203.3L463.3 202.5L465.4 203.8L467.5 202.1L469.6 204.2L468.3 206.7L468.8 209.2L466.7 207.9L465 206.7L462.9 207.5L461.2 205.8L460 203.3M441.2 215.8L442.2 214.9M443 214.5L446.7 214.2L450 213.3L453.8 212.9L452.9 215.8L451.7 219.2L448.3 221.2L445 223.3L442.9 225L442.1 221.7L441.9 219.8M441.5 217.4L441.2 215.8M460.8 265L465 264.5L470 265.5L474 262.5L481 260.5L484 265L484.2 265.3M460.8 266.7L460.8 265M408.8 182.6L410.2 179.8L410.5 176.6L414.1 175.9L418.3 176.2L421.8 176.6L423.9 175.2L426.8 174.5L429.6 174.1L431 175.9L433.5 178L436.6 178.7L440.2 180.1L443.3 181.2L443.7 184.3L441.9 186.5L440.2 187.2L437.3 187.9L435.2 188.9L435.6 190.3L438.8 191.4L437.3 192.8L434.9 192.5L433.5 193.9L431.7 191.4L431.3 190L428.9 188.9L427.1 188.6L426.1 189.6L425.3 191.4L424.3 191.8L425 189.6L423.9 187.2L422.2 184.7L419 183.3L416.2 184.7L414.1 185.1L411.2 184L408.8 182.6M418.3 183.6L419.3 183.3L422.5 185.1L424.3 187.9L425 189.5L424.3 191.8L422.9 190L422.2 188.2L420.8 186.5L419.3 185.1L418.3 183.6M405.9 189.6L408.1 187.2L411.2 184.3L414.1 185.1L416.2 184.7L418.3 184L419.3 185.1L420.8 186.5L422.2 188.2L422.9 190L423.6 191.8L424.3 192.1L423.6 193.2L422.2 193.9L422.2 195.3L420.1 194.6L416.9 194.9L413.3 195.6L410.2 194.6L408.4 192.8L407.4 191.1L405.9 189.6M402.8 190.3L404.5 189.6L405.9 189.6L407.4 191.1L408.4 192.8L410.2 194.6L409.8 196L410.2 198.5L408.8 198.8L407.7 197.1L405.6 196.3L404.2 197.1L403.5 195.3L402.1 193.2L403.1 192.1L402.8 190.3M396.1 192.8L399.2 192.1L402.1 193.2L403.5 195.3L404.2 197.1L403.1 198.5L401 197.4L398.5 195.6L396.4 194.2L396.1 192.8M403.1 198.5L404.2 197.1L405.6 197.8L405.2 199.5L403.8 200.2L402.4 199.2L403.1 198.5M406.6 200.6L407.7 199.9L408.8 198.8L410.2 198.5L410.9 198.5L410.5 200.6L410.2 202.3L408.1 203L406.6 202.3L406.6 200.6M402.2 167.5L403.1 167.1L405.6 167.4L406.3 168.8L403.5 169L401.4 168.8L401 168.1M381 195.5L382.9 195.2L382.9 198.1M381.1 196.4L381 195.5M128 132.6L104.4 154.6M115 182.4L171 182.4L179 184.4L186 187L190 192L192 195.6L188.4 200.4L196 198L198.3 196.7L202.5 195.4L206.7 193.3L211.7 192.1L215.8 191.2L218.3 189.2L218.8 187.1L221.7 186.2L223.8 186.7L223.3 190L224.2 192.1M197.6 279.2L195.5 284.9L196.9 289.9L203.3 291.3L207.5 294.1L207.5 300.5L209 305.5L212.5 308.3L216.7 304.7L214.6 303.3L215.3 299.8L219.6 299.1L222.4 297.7M209 305.5L203.3 305.5L202.6 310.4L201.9 316.1L200.5 320.3M190.5 311.8L187 309.7L182 306.9M210 369L211 375L209 385L210 395L211 405L212 415L213 423L215 431L216 439L220 444L225 446L227 446M241 375L243 378L239 385L237 389L247 395M237 389L235 392L236 398L239 401M225 446L226 452M359 217.1L358.3 219.2L359.7 224.9L355.5 228.5L347 232.7L343.4 234.8L343.4 239.1M379.5 215L379.5 217.8L380.2 223.5L383.8 229.2L385.9 226.3L388 223.5M349.8 244.7L367.5 257.5L371.7 260L388.7 248.3L394.4 250.4L397.9 249L415.7 257.5M371.7 260L372.5 263.9L371.7 268.8L364.7 270.9L359 271.7L355.5 275.2L351.9 277.3L350.5 281.6L348.4 283L344.8 281.6L344.1 278L339.9 277.3L337 274.5L335.6 270.9M397.9 249L398.7 256.1L397.2 263.2L395.8 268.8L393.7 272.4L394.4 275.2L390.9 275.2L384.5 276.2L379.5 274.5L374.6 273.8L371.7 275.2L367.5 276.6L364.7 270.9M417.8 268.8L414.9 272.4L414.2 277.3L416.4 281.6L414.2 283L408.6 285.8L404.3 288.7L400 288.3M367.5 276.6L366.1 279.4L363.2 280.9L356.2 281.6L355.5 283.7L352.6 284.4L350.5 281.6M371.7 275.2L371 279.4L370 285.8L370 293.6M366.1 279.4L365.4 281.6L366.8 284.4L367.5 293.6M363.2 280.9L364.4 284.4L365.4 294.3M355.5 283.7L356.9 288.7L356.2 296.4M344.8 281.6L344.1 284.4L342.7 288.7L344.8 292.2L345.5 297.9M337 274.5L332.8 275.2L327.8 275.2L325 275.9M327.8 275.2L329.2 277.3L326.4 279.4M329.2 277.3L329.2 280.2L332.1 283L334.9 281.6L338.5 284.4L340.6 287.2L342.7 288.7M332.1 283L333.5 287.2L337 290.1L339.2 287.9L338.5 284.4M383 297.5L385.8 293.2L390.1 290.4L392.9 286.2L394.3 281.9L396.4 278.4L397.4 274.8M394.4 275.2L397.4 274.8L398.6 279.8L396.4 284L400 288.3M385.1 304.6L388.7 304.6M385.1 307.4L388.7 307.7M402.1 301L404.9 301.7L403.5 306.7L402.1 311.7L399.3 315.2L397.2 318.7L393.6 321.6L391.5 323M405.6 298.5L414.1 297.8L420.5 296.4L426.8 298.5L433.2 300.6L441.7 299.9L443.8 296.4L450.9 299.9L458 299.2L460.8 299.2M405.6 298.5L404.2 302.7L402.7 308.4L400.6 314.1L397.8 318.3L392.8 320.5L390 322.6M433.2 300.6L433.9 304.2L431.8 308.4L432.5 313.4L431.1 316.9L431.8 321.2L430.4 326.1L432.5 331.1L429 332.5L428.2 338.9L430.4 342.4L429 344.5L424.7 340.3L420.5 339.6L416.2 338.9L414.8 337.5L413.4 331.1L410.5 329L404.9 330.4L401.3 327.5L400.6 324.7L393.5 323.3L390 322.6M441.7 299.9L442.4 305.6L441.7 313.4L453 322.6M432.5 313.4L440.3 312L441.7 313.4M430.4 314.1L432.5 316.9M432.5 331.1L436.7 332.5L439.6 335.3L440.3 336.7L443.8 341L449.5 339.6L455.9 338.2M439.6 335.3L438.9 341L438.9 345.9L433.2 348.8L431.1 350.9L426.8 353L424 355.9L420.5 355.9L414.1 354.4L412 349.5L412.7 343.8L417.6 340.3L416.2 338.9M440.3 336.7L441.7 343.8L444.5 349.5L443.1 353L441 350.9L440.3 345.9L438.9 345.9M432.5 350.9L437.5 354.4L438.2 359.4L436 365.1L432.5 367.9L429 367.2M420.5 355.9L411.2 357.3L404.2 355.2L395.7 355.2L390 354.4M438.2 359.4L437.5 366.5L438.9 369.3M446.2 271.7L446.9 267.4L448.3 269.5L453.2 270.9L456.8 274.5L460.3 278L458.9 280.9L462.5 282.3M460.3 278L461.7 277.3M443.3 277.3L442.6 287.2L446.9 293.6L444.7 296.4M420 285.8L423.5 291.5L426.3 295.7M420.5 290L425.4 295.7L420.5 296.4M443.8 296.4L441 292.8L439.6 290M508.3 204.8L510 203.3L511.7 204.2L509.2 206.2L507.1 207.1L507.9 209.6L506.7 211.7M521.7 213.1L519 215.8L517.9 219L516.9 222.2L514.2 225.4L512.6 228L509.9 229.6L508.9 232.3L505.1 232.8L500.3 233.4M585.6 259.9L587.4 257.6L590.1 256.3L592.3 259.4L592.8 263L596.8 262.6L600 263.9L602.7 267.5L604 270.7L602.7 272.5L599.5 272.9L597.7 274.7L597.3 277M585.6 265.3L584.7 262.1L585.6 259.9M595.9 180.6L597.3 180.2L600.9 179.2L599.4 174.2L601.6 171.7L608.7 171.4L614.3 176.4L620 179.9L625.7 181.3L632.7 185.6L637 184.2L634.9 191.2L637.7 192.7L636.3 198.3M539.8 181.2L537 185.5L532.7 186.9L533.4 190.4L528.5 193.2L532 198.2L528.5 201.7L522.8 203.9L520 208.1L522.8 210.9L527.1 213.8L531.3 217.3M512.2 198.2L513.6 201L517.2 202.5L514.3 203.9M528.5 201.7L532 198.2M506.5 209.5L507.9 205.3L511.5 203.9L512.2 198.2M455 198.8L458.3 199.6L462.1 200.8L463.3 202.5L465.4 203.8L467.5 202.1M455 201.2L457.5 202.5L460 203.3M496.7 217.1L494.2 215L491.7 212.9L488.3 211.7L484.2 210.4L480.8 212.1L478.3 212.9M452.5 215L451.1 219.2L446.9 222.1L443.3 224.9M452.5 215L461.7 215L463.9 220.7L468.8 227.7L470.2 231.3M446.9 222.1L450.4 224.2L457.5 228.5L463.2 230.6L466.7 233.4L468.8 232.7M450.4 224.2L448.3 227L445.5 229.9L441.2 232.7L440.5 234.1M480.8 259.8L485.8 258L488 255.1L488.7 252.3L487.6 250.1L486.5 251.5L483.3 250.8L480.1 249.4L479.4 246.5M487.6 250.1L488 247.2L489.1 244.4L488.7 242.2M476.5 242.4L478.1 242.8M468.3 231.1L466.1 233.3L467.2 234.3L469 235.1L470.4 234.3M458.4 209.5L459.8 214.5L463.3 218.7L466.9 223L469 227.9L470.4 231.2M440.4 214.2L442.5 214.6M453.8 212.9L456.7 212.1L457.5 210.4L458.3 207.5L456.7 205L455 202.9M409.8 170.6L412.3 168.5L415.1 166L416.2 164.9M409.8 170.6L408.8 171.6L409.5 174.1L410.5 176.6M383.9 156.9L384.6 153.3L384.6 147.7L388.1 142.7L391.7 138.5L395.9 134.9L398.7 134.2L403 135.6L405.8 132.8L410.1 132.1L412.2 133.5M403 135.6L404.4 141.3M406.5 160.4L415 160.4M403 164.4L410.1 164L415.7 164M391.7 169.6L390.9 173.2L391.7 177.4L388.8 179.5L390.2 183.1L388.1 185.2L383.2 185.9L377.5 185.2L376.1 180.9L376.1 176L376.8 171.7L379.6 169.2M409.4 173.9L408.7 178.8L405.8 180.9L400.2 180.2L395.9 179.5L391.7 177.4M390.2 183.1L393.1 183.8L397.3 183.1L400.2 180.2M397.3 183.1L397.3 184.5L396.6 187.3L391.7 188.7L386 188L383.2 185.9M405.8 180.9L408.7 181.7L407.2 183.8L401.6 184.5L397.3 184.5M407.2 183.8L408.7 185.2L405.8 188.7L400.2 190.2L396.6 187.3M376.1 186.6L383.2 185.9L383.9 188.7L378.9 190.2L375.4 189.4L376.1 186.6M376.1 170.3L375.4 173.9L372.5 174.6L370.4 175.3M375.4 173.9L376.1 176M361.9 197.6L369.7 199.7M345.6 212.5L347.7 208.2L347 203.3L348.5 199.7L344.9 199M377.5 198.3L378.9 194.8L376.8 192.7L376.1 189.8M378.9 194.8L381.7 191.2L388.1 190.5L390.9 192M406.8 202.9L409.2 202.9L411.2 202.1L414.2 201.7L416.7 200.8L417.1 202.5" stroke-opacity="0.6"/>
</g>
<g id="legend" font-family="Liberation Sans, sans-serif" font-size="13" fill="#5b5b5b" text-anchor="middle">
<rect x="215.5" y="517.5" width="48" height="11" fill="url(#hatch)" stroke="#ccc" stroke-width="1"/>
<line x1="239.5" y1="513.5" x2="239.5" y2="517.5" stroke="#999" stroke-width="1"/>
<text x="239.5" y="510.5">No data</text>
<rect x="283" y="517.5" width="58.5" height="11" fill="#fef0d9"/>
<rect x="341.5" y="517.5" width="58.5" height="11" fill="#fdd49e"/>
<rect x="400" y="517.5" width="58.5" height="11" fill="#fdbb84"/>
<rect x="458.5" y="517.5" width="58.5" height="11" fill="#fc8d59"/>
<rect x="517" y="517.5" width="58.5" height="11" fill="#e34a33"/>
<path d="M575.5 517.5H629.5L634.5 523L629.5 528.5H575.5Z" fill="#b30000"/>
<path d="M283 517.5H629.5M283 528.5H629.5" stroke="#ccc" stroke-width="1" fill="none" opacity="0.9"/>
<path d="M283.5 513.5V528.5M341.5 513.5V528.5M400 513.5V528.5M458.5 513.5V528.5M517 513.5V528.5M575.5 513.5V528.5" stroke="#777" stroke-width="1" fill="none"/>
<text x="283.5" y="510.5">0</text>
<text x="341.5" y="510.5">10</text>
<text x="400" y="510.5">20</text>
<text x="458.5" y="510.5">50</text>
<text x="517" y="510.5">100</text>
<text x="575.5" y="510.5">200</text>
</g>
</svg>
<div class="foot" id="src"><b>Data source:</b> World Health Organization</div>
<div class="foot" id="note"><b>Note:</b> To allow for comparisons between countries and over time, this metric is age-standardized.</div>
<div class="foot" id="url">OurWorldinData.org/air-pollution | CC BY</div>
</body>
</html>
